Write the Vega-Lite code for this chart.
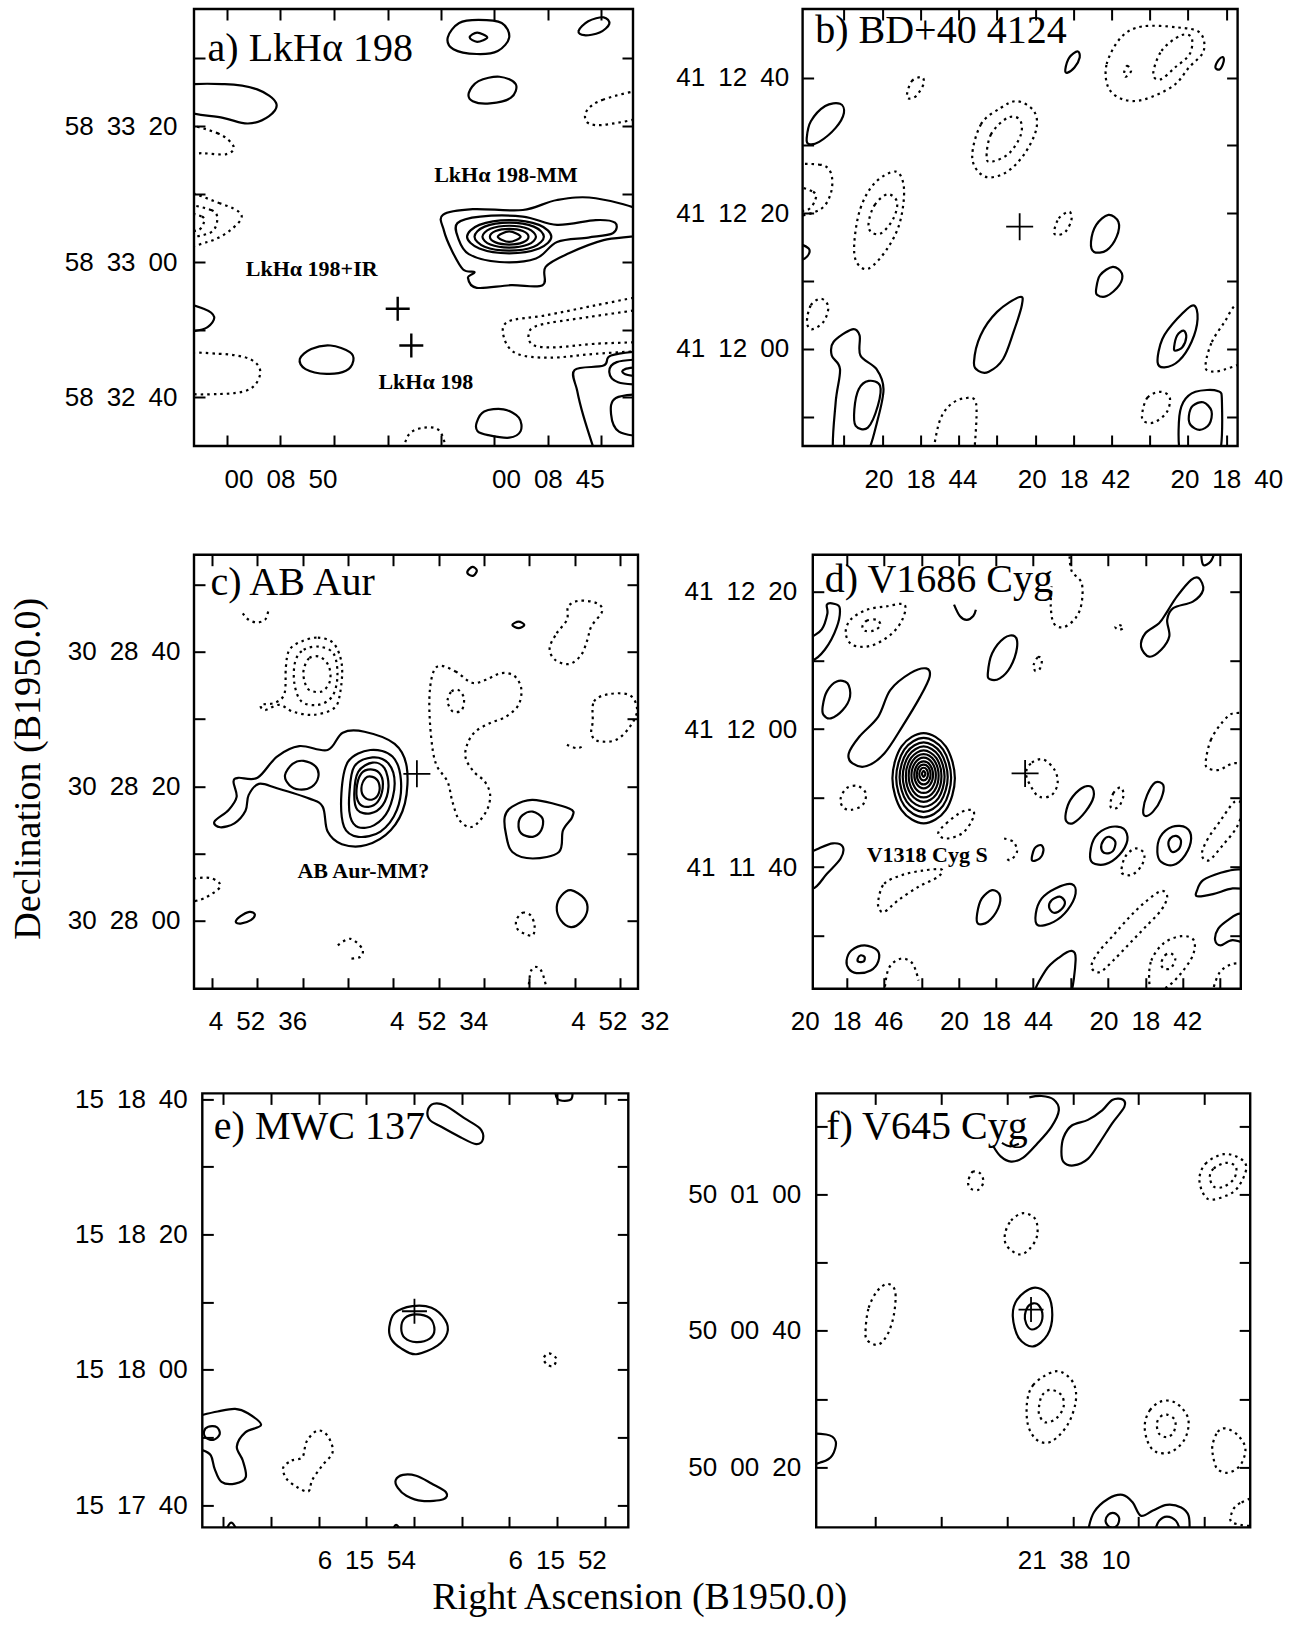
{
"$schema":"https://vega.github.io/schema/vega-lite/v6.json",
"background":"white",
"padding":{"left":10,"top":6,"right":5,"bottom":5},
"title":{"text":"Declination (B1950.0)","orient":"left","anchor":"middle","font":"Liberation Serif","fontSize":38,"fontWeight":"normal","color":"black","offset":9,"dx":43},
"config":{"view":{"stroke":"black","strokeWidth":2.4},"axis":{"domain":false,"grid":false,"tickSize":-11,"tickWidth":2,"tickColor":"black","labelFont":"Liberation Sans","labelFontSize":26,"labelColor":"black","labelFlush":false,"labelOverlap":false}},
"datasets":{
"m":[{"p":"a","x":46.4,"y":31.4},{"p":"a","x":49.5,"y":23.0},{"p":"b","x":49.9,"y":50.2},{"p":"c","x":50.2,"y":49.5},{"p":"d","x":49.6,"y":49.6},{"p":"e","x":49.8,"y":49.8},{"p":"f","x":49.5,"y":50.2}],
"fr":[{"p":"e","x":0,"x2":100,"y":0,"y2":100}],
"t":[{"p":"a","k":"title","x":3.1,"y":88.1,"label":"a) LkHα 198"},{"p":"b","k":"title","x":2.9,"y":92.3,"label":"b) BD+40 4124"},{"p":"c","k":"title","x":3.7,"y":90.8,"label":"c) AB Aur"},{"p":"d","k":"title","x":2.8,"y":91.5,"label":"d) V1686 Cyg"},{"p":"e","k":"title","x":2.7,"y":89.5,"label":"e) MWC 137"},{"p":"f","k":"title","x":2.3,"y":89.6,"label":"f) V645 Cyg"},
{"p":"a","k":"ann","x":54.7,"y":60.5,"label":"LkHα 198-MM"},{"p":"a","k":"ann","x":11.8,"y":38.9,"label":"LkHα 198+IR"},{"p":"a","k":"ann","x":42.0,"y":13.0,"label":"LkHα 198"},{"p":"c","k":"ann","x":23.3,"y":25.4,"label":"AB Aur-MM?"},{"p":"d","k":"ann","x":12.6,"y":29.2,"label":"V1318 Cyg S"}],
"c":[
{"p":"a","k":"a1","t":"s","i":0,"x":57.8,"y":93.5},{"p":"a","k":"a1","t":"s","i":1,"x":60.4,"y":96.8},{"p":"a","k":"a1","t":"s","i":2,"x":64.8,"y":97.5},{"p":"a","k":"a1","t":"s","i":3,"x":70.1,"y":96.8},{"p":"a","k":"a1","t":"s","i":4,"x":71.8,"y":93.5},{"p":"a","k":"a1","t":"s","i":5,"x":69.2,"y":90.4},{"p":"a","k":"a1","t":"s","i":6,"x":64.4,"y":89.7},{"p":"a","k":"a1","t":"s","i":7,"x":59.1,"y":90.8},
{"p":"a","k":"a2","t":"s","i":0,"x":62.8,"y":93.5},{"p":"a","k":"a2","t":"s","i":1,"x":64.5,"y":94.6},{"p":"a","k":"a2","t":"s","i":2,"x":66.8,"y":93.5},{"p":"a","k":"a2","t":"s","i":3,"x":64.5,"y":92.5},
{"p":"a","k":"a3","t":"s","i":0,"x":87.6,"y":95.0},{"p":"a","k":"a3","t":"s","i":1,"x":89.8,"y":97.2},{"p":"a","k":"a3","t":"s","i":2,"x":93.3,"y":98.1},{"p":"a","k":"a3","t":"s","i":3,"x":94.6,"y":96.6},{"p":"a","k":"a3","t":"s","i":4,"x":92.4,"y":94.6},{"p":"a","k":"a3","t":"s","i":5,"x":88.9,"y":94.0},
{"p":"a","k":"a4","t":"s","i":0,"x":62.6,"y":80.8},{"p":"a","k":"a4","t":"s","i":1,"x":64.8,"y":83.5},{"p":"a","k":"a4","t":"s","i":2,"x":69.6,"y":84.5},{"p":"a","k":"a4","t":"s","i":3,"x":73.3,"y":82.8},{"p":"a","k":"a4","t":"s","i":4,"x":72.2,"y":79.7},{"p":"a","k":"a4","t":"s","i":5,"x":67.4,"y":78.4},{"p":"a","k":"a4","t":"s","i":6,"x":63.5,"y":78.9},
{"p":"a","k":"a5","t":"s","i":0,"x":-3,"y":82.2},{"p":"a","k":"a5","t":"s","i":1,"x":7.0,"y":82.8},{"p":"a","k":"a5","t":"s","i":2,"x":14.4,"y":81.6},{"p":"a","k":"a5","t":"s","i":3,"x":18.7,"y":78.5},{"p":"a","k":"a5","t":"s","i":4,"x":17.1,"y":75.5},{"p":"a","k":"a5","t":"s","i":5,"x":12.3,"y":73.8},{"p":"a","k":"a5","t":"s","i":6,"x":6.6,"y":75.1},{"p":"a","k":"a5","t":"s","i":7,"x":-3,"y":77.0},
{"p":"a","k":"a6","t":"d","i":0,"x":-3,"y":73.3},{"p":"a","k":"a6","t":"d","i":1,"x":5.3,"y":71.6},{"p":"a","k":"a6","t":"d","i":2,"x":9.0,"y":68.6},{"p":"a","k":"a6","t":"d","i":3,"x":7.4,"y":66.8},{"p":"a","k":"a6","t":"d","i":4,"x":2.2,"y":67.0},{"p":"a","k":"a6","t":"d","i":5,"x":-3,"y":67.4},
{"p":"a","k":"a7","t":"d","i":0,"x":-3,"y":57.5},{"p":"a","k":"a7","t":"d","i":1,"x":5.7,"y":55.6},{"p":"a","k":"a7","t":"d","i":2,"x":10.8,"y":52.9},{"p":"a","k":"a7","t":"d","i":3,"x":8.3,"y":49.4},{"p":"a","k":"a7","t":"d","i":4,"x":3.1,"y":46.7},{"p":"a","k":"a7","t":"d","i":5,"x":-3,"y":46.4},
{"p":"a","k":"a8","t":"d","i":0,"x":-3,"y":54.8},{"p":"a","k":"a8","t":"d","i":1,"x":3.9,"y":54.0},{"p":"a","k":"a8","t":"d","i":2,"x":5.3,"y":51.7},{"p":"a","k":"a8","t":"d","i":3,"x":3.5,"y":48.7},{"p":"a","k":"a8","t":"d","i":4,"x":-3,"y":48.3},
{"p":"a","k":"a9","t":"d","i":0,"x":-3,"y":53.3},{"p":"a","k":"a9","t":"d","i":1,"x":1.8,"y":52.5},{"p":"a","k":"a9","t":"d","i":2,"x":2.2,"y":51.0},{"p":"a","k":"a9","t":"d","i":3,"x":0.9,"y":49.4},{"p":"a","k":"a9","t":"d","i":4,"x":-3,"y":49.4},
{"p":"a","k":"a10","t":"s","i":0,"x":-3,"y":32.4},{"p":"a","k":"a10","t":"s","i":1,"x":2.2,"y":31.4},{"p":"a","k":"a10","t":"s","i":2,"x":4.6,"y":29.5},{"p":"a","k":"a10","t":"s","i":3,"x":3.1,"y":27.2},{"p":"a","k":"a10","t":"s","i":4,"x":0,"y":26.3},{"p":"a","k":"a10","t":"s","i":5,"x":-3,"y":26.4},
{"p":"a","k":"a11","t":"d","i":0,"x":-3,"y":20.5},{"p":"a","k":"a11","t":"d","i":1,"x":5.7,"y":21.1},{"p":"a","k":"a11","t":"d","i":2,"x":12.7,"y":19.9},{"p":"a","k":"a11","t":"d","i":3,"x":15.1,"y":16.9},{"p":"a","k":"a11","t":"d","i":4,"x":12.7,"y":13.0},{"p":"a","k":"a11","t":"d","i":5,"x":5.7,"y":11.9},{"p":"a","k":"a11","t":"d","i":6,"x":-3,"y":12.8},
{"p":"a","k":"a12","t":"s","i":0,"x":24.1,"y":19.9},{"p":"a","k":"a12","t":"s","i":1,"x":26.7,"y":22.2},{"p":"a","k":"a12","t":"s","i":2,"x":31.1,"y":23.0},{"p":"a","k":"a12","t":"s","i":3,"x":35.5,"y":21.5},{"p":"a","k":"a12","t":"s","i":4,"x":36.3,"y":19.5},{"p":"a","k":"a12","t":"s","i":5,"x":34.6,"y":17.2},{"p":"a","k":"a12","t":"s","i":6,"x":30.2,"y":16.5},{"p":"a","k":"a12","t":"s","i":7,"x":25.4,"y":17.6},
{"p":"a","k":"a13","t":"s","i":0,"x":56.7,"y":52.9},{"p":"a","k":"a13","t":"s","i":1,"x":63.5,"y":54.2},{"p":"a","k":"a13","t":"s","i":2,"x":74.9,"y":54.0},{"p":"a","k":"a13","t":"s","i":3,"x":82.7,"y":56.3},{"p":"a","k":"a13","t":"s","i":4,"x":91.5,"y":56.7},{"p":"a","k":"a13","t":"s","i":5,"x":103,"y":53.3},{"p":"a","k":"a13","t":"s","i":6,"x":103,"y":48.7},{"p":"a","k":"a13","t":"s","i":7,"x":93.3,"y":47.1},{"p":"a","k":"a13","t":"s","i":8,"x":85.4,"y":44.1},{"p":"a","k":"a13","t":"s","i":9,"x":80.1,"y":41.0},{"p":"a","k":"a13","t":"s","i":10,"x":79.4,"y":36.8},{"p":"a","k":"a13","t":"s","i":11,"x":72.2,"y":36.8},{"p":"a","k":"a13","t":"s","i":12,"x":64.4,"y":36.2},{"p":"a","k":"a13","t":"s","i":13,"x":62.4,"y":38.5},{"p":"a","k":"a13","t":"s","i":14,"x":63.9,"y":39.8},{"p":"a","k":"a13","t":"s","i":15,"x":61.3,"y":40.4},{"p":"a","k":"a13","t":"s","i":16,"x":58.7,"y":44.8},{"p":"a","k":"a13","t":"s","i":17,"x":56.9,"y":49.4},
{"p":"a","k":"a14","t":"s","i":0,"x":60.0,"y":51.0},{"p":"a","k":"a14","t":"s","i":1,"x":65.2,"y":52.5},{"p":"a","k":"a14","t":"s","i":2,"x":74.9,"y":52.5},{"p":"a","k":"a14","t":"s","i":3,"x":82.7,"y":50.6},{"p":"a","k":"a14","t":"s","i":4,"x":91.5,"y":51.7},{"p":"a","k":"a14","t":"s","i":5,"x":95.9,"y":51.1},{"p":"a","k":"a14","t":"s","i":6,"x":95.4,"y":48.7},{"p":"a","k":"a14","t":"s","i":7,"x":89.8,"y":47.7},{"p":"a","k":"a14","t":"s","i":8,"x":82.7,"y":46.7},{"p":"a","k":"a14","t":"s","i":9,"x":77.9,"y":42.9},{"p":"a","k":"a14","t":"s","i":10,"x":69.6,"y":42.1},{"p":"a","k":"a14","t":"s","i":11,"x":62.6,"y":43.9},{"p":"a","k":"a14","t":"s","i":12,"x":60.2,"y":47.5},
{"p":"a","k":"a15","t":"s","i":0,"x":62.2,"y":47.9},{"p":"a","k":"a15","t":"s","i":1,"x":65.0,"y":50.6},{"p":"a","k":"a15","t":"s","i":2,"x":71.8,"y":51.7},{"p":"a","k":"a15","t":"s","i":3,"x":78.6,"y":50.6},{"p":"a","k":"a15","t":"s","i":4,"x":81.4,"y":47.9},{"p":"a","k":"a15","t":"s","i":5,"x":78.6,"y":45.2},{"p":"a","k":"a15","t":"s","i":6,"x":71.8,"y":44.1},{"p":"a","k":"a15","t":"s","i":7,"x":65.0,"y":45.2},
{"p":"a","k":"a16","t":"s","i":0,"x":63.9,"y":47.9},{"p":"a","k":"a16","t":"s","i":1,"x":66.2,"y":50.2},{"p":"a","k":"a16","t":"s","i":2,"x":71.8,"y":51.1},{"p":"a","k":"a16","t":"s","i":3,"x":77.4,"y":50.2},{"p":"a","k":"a16","t":"s","i":4,"x":79.7,"y":47.9},{"p":"a","k":"a16","t":"s","i":5,"x":77.4,"y":45.6},{"p":"a","k":"a16","t":"s","i":6,"x":71.8,"y":44.7},{"p":"a","k":"a16","t":"s","i":7,"x":66.2,"y":45.6},
{"p":"a","k":"a17","t":"s","i":0,"x":65.7,"y":47.9},{"p":"a","k":"a17","t":"s","i":1,"x":67.5,"y":49.7},{"p":"a","k":"a17","t":"s","i":2,"x":71.8,"y":50.4},{"p":"a","k":"a17","t":"s","i":3,"x":76.1,"y":49.7},{"p":"a","k":"a17","t":"s","i":4,"x":77.9,"y":47.9},{"p":"a","k":"a17","t":"s","i":5,"x":76.1,"y":46.1},{"p":"a","k":"a17","t":"s","i":6,"x":71.8,"y":45.4},{"p":"a","k":"a17","t":"s","i":7,"x":67.5,"y":46.1},
{"p":"a","k":"a18","t":"s","i":0,"x":67.4,"y":47.9},{"p":"a","k":"a18","t":"s","i":1,"x":68.7,"y":49.2},{"p":"a","k":"a18","t":"s","i":2,"x":71.8,"y":49.7},{"p":"a","k":"a18","t":"s","i":3,"x":74.9,"y":49.2},{"p":"a","k":"a18","t":"s","i":4,"x":76.2,"y":47.9},{"p":"a","k":"a18","t":"s","i":5,"x":74.9,"y":46.6},{"p":"a","k":"a18","t":"s","i":6,"x":71.8,"y":46.1},{"p":"a","k":"a18","t":"s","i":7,"x":68.7,"y":46.6},
{"p":"a","k":"a19","t":"s","i":0,"x":69.2,"y":47.9},{"p":"a","k":"a19","t":"s","i":1,"x":71.8,"y":49.1},{"p":"a","k":"a19","t":"s","i":2,"x":74.4,"y":47.9},{"p":"a","k":"a19","t":"s","i":3,"x":71.8,"y":46.7},
{"p":"a","k":"a20","t":"do","i":0,"x":103,"y":34.5},{"p":"a","k":"a20","t":"do","i":1,"x":91.5,"y":32.2},{"p":"a","k":"a20","t":"do","i":2,"x":80.1,"y":29.9},{"p":"a","k":"a20","t":"do","i":3,"x":71.4,"y":28.4},{"p":"a","k":"a20","t":"do","i":4,"x":70.7,"y":24.5},{"p":"a","k":"a20","t":"do","i":5,"x":73.6,"y":21.1},{"p":"a","k":"a20","t":"do","i":6,"x":81.0,"y":20.2},{"p":"a","k":"a20","t":"do","i":7,"x":91.5,"y":21.1},{"p":"a","k":"a20","t":"do","i":8,"x":103,"y":21.8},
{"p":"a","k":"a21","t":"do","i":0,"x":103,"y":31.4},{"p":"a","k":"a21","t":"do","i":1,"x":89.8,"y":29.5},{"p":"a","k":"a21","t":"do","i":2,"x":78.4,"y":27.6},{"p":"a","k":"a21","t":"do","i":3,"x":76.2,"y":25.3},{"p":"a","k":"a21","t":"do","i":4,"x":77.5,"y":23.0},{"p":"a","k":"a21","t":"do","i":5,"x":82.7,"y":22.6},{"p":"a","k":"a21","t":"do","i":6,"x":91.5,"y":23.4},{"p":"a","k":"a21","t":"do","i":7,"x":103,"y":23.8},
{"p":"a","k":"a22","t":"so","i":0,"x":103,"y":21.8},{"p":"a","k":"a22","t":"so","i":1,"x":95.0,"y":20.7},{"p":"a","k":"a22","t":"so","i":2,"x":93.3,"y":18.4},{"p":"a","k":"a22","t":"so","i":3,"x":86.7,"y":17.4},{"p":"a","k":"a22","t":"so","i":4,"x":87.3,"y":12.6},{"p":"a","k":"a22","t":"so","i":5,"x":88.7,"y":6.9},{"p":"a","k":"a22","t":"so","i":6,"x":91.5,"y":-2},
{"p":"a","k":"a23","t":"so","i":0,"x":103,"y":19.9},{"p":"a","k":"a23","t":"so","i":1,"x":96.3,"y":19.2},{"p":"a","k":"a23","t":"so","i":2,"x":94.6,"y":16.9},{"p":"a","k":"a23","t":"so","i":3,"x":96.6,"y":14.6},{"p":"a","k":"a23","t":"so","i":4,"x":103,"y":14.0},
{"p":"a","k":"a24","t":"so","i":0,"x":103,"y":18.2},{"p":"a","k":"a24","t":"so","i":1,"x":98.2,"y":17.6},{"p":"a","k":"a24","t":"so","i":2,"x":98.1,"y":16.5},{"p":"a","k":"a24","t":"so","i":3,"x":103,"y":15.6},
{"p":"a","k":"a25","t":"so","i":0,"x":103,"y":11.9},{"p":"a","k":"a25","t":"so","i":1,"x":96.1,"y":11.0},{"p":"a","k":"a25","t":"so","i":2,"x":95.0,"y":7.3},{"p":"a","k":"a25","t":"so","i":3,"x":96.8,"y":3.3},{"p":"a","k":"a25","t":"so","i":4,"x":103,"y":2.1},
{"p":"a","k":"a26","t":"s","i":0,"x":64.4,"y":5.4},{"p":"a","k":"a26","t":"s","i":1,"x":66.1,"y":7.9},{"p":"a","k":"a26","t":"s","i":2,"x":70.5,"y":8.4},{"p":"a","k":"a26","t":"s","i":3,"x":74.0,"y":6.5},{"p":"a","k":"a26","t":"s","i":4,"x":74.4,"y":3.4},{"p":"a","k":"a26","t":"s","i":5,"x":71.8,"y":1.9},{"p":"a","k":"a26","t":"s","i":6,"x":67.0,"y":2.5},{"p":"a","k":"a26","t":"s","i":7,"x":64.6,"y":3.4},
{"p":"a","k":"a27","t":"do","i":0,"x":47.3,"y":-2},{"p":"a","k":"a27","t":"do","i":1,"x":49.0,"y":2.7},{"p":"a","k":"a27","t":"do","i":2,"x":52.5,"y":4.2},{"p":"a","k":"a27","t":"do","i":3,"x":56.0,"y":3.4},{"p":"a","k":"a27","t":"do","i":4,"x":57.8,"y":-2},
{"p":"a","k":"a28","t":"d","i":0,"x":103,"y":81.2},{"p":"a","k":"a28","t":"d","i":1,"x":93.3,"y":79.3},{"p":"a","k":"a28","t":"d","i":2,"x":89.4,"y":76.6},{"p":"a","k":"a28","t":"d","i":3,"x":89.8,"y":73.9},{"p":"a","k":"a28","t":"d","i":4,"x":94.2,"y":73.6},{"p":"a","k":"a28","t":"d","i":5,"x":103,"y":75.9},
{"p":"b","k":"b1","t":"s","i":0,"x":0.95,"y":70.5},{"p":"b","k":"b1","t":"s","i":1,"x":1.9,"y":74.3},{"p":"b","k":"b1","t":"s","i":2,"x":5.2,"y":77.8},{"p":"b","k":"b1","t":"s","i":3,"x":8.6,"y":78.3},{"p":"b","k":"b1","t":"s","i":4,"x":9.5,"y":76.2},{"p":"b","k":"b1","t":"s","i":5,"x":7.6,"y":72.8},{"p":"b","k":"b1","t":"s","i":6,"x":3.8,"y":69.6},{"p":"b","k":"b1","t":"s","i":7,"x":1.4,"y":69.1},
{"p":"b","k":"b2","t":"d","i":0,"x":24.0,"y":80.5},{"p":"b","k":"b2","t":"d","i":1,"x":25.1,"y":83.5},{"p":"b","k":"b2","t":"d","i":2,"x":27.4,"y":84.4},{"p":"b","k":"b2","t":"d","i":3,"x":27.8,"y":82.8},{"p":"b","k":"b2","t":"d","i":4,"x":26.1,"y":80.1},{"p":"b","k":"b2","t":"d","i":5,"x":24.5,"y":79.5},
{"p":"b","k":"b3","t":"d","i":0,"x":39.0,"y":65.9},{"p":"b","k":"b3","t":"d","i":1,"x":41.0,"y":73.6},{"p":"b","k":"b3","t":"d","i":2,"x":45.6,"y":77.4},{"p":"b","k":"b3","t":"d","i":3,"x":49.4,"y":78.9},{"p":"b","k":"b3","t":"d","i":4,"x":53.2,"y":76.6},{"p":"b","k":"b3","t":"d","i":5,"x":53.7,"y":72.4},{"p":"b","k":"b3","t":"d","i":6,"x":50.9,"y":66.7},{"p":"b","k":"b3","t":"d","i":7,"x":46.6,"y":62.5},{"p":"b","k":"b3","t":"d","i":8,"x":41.8,"y":61.7},
{"p":"b","k":"b4","t":"d","i":0,"x":42.3,"y":65.9},{"p":"b","k":"b4","t":"d","i":1,"x":43.3,"y":71.3},{"p":"b","k":"b4","t":"d","i":2,"x":47.1,"y":75.1},{"p":"b","k":"b4","t":"d","i":3,"x":49.9,"y":74.7},{"p":"b","k":"b4","t":"d","i":4,"x":50.2,"y":71.3},{"p":"b","k":"b4","t":"d","i":5,"x":47.5,"y":67.0},{"p":"b","k":"b4","t":"d","i":6,"x":43.7,"y":65.1},
{"p":"b","k":"b5","t":"d","i":0,"x":11.9,"y":46.7},{"p":"b","k":"b5","t":"d","i":1,"x":13.3,"y":54.4},{"p":"b","k":"b5","t":"d","i":2,"x":16.6,"y":60.2},{"p":"b","k":"b5","t":"d","i":3,"x":21.4,"y":62.8},{"p":"b","k":"b5","t":"d","i":4,"x":23.3,"y":59.0},{"p":"b","k":"b5","t":"d","i":5,"x":22.4,"y":51.3},{"p":"b","k":"b5","t":"d","i":6,"x":19.5,"y":45.2},{"p":"b","k":"b5","t":"d","i":7,"x":15.2,"y":40.6},{"p":"b","k":"b5","t":"d","i":8,"x":12.4,"y":42.1},
{"p":"b","k":"b6","t":"d","i":0,"x":15.2,"y":51.3},{"p":"b","k":"b6","t":"d","i":1,"x":16.6,"y":55.2},{"p":"b","k":"b6","t":"d","i":2,"x":19.5,"y":57.6},{"p":"b","k":"b6","t":"d","i":3,"x":21.7,"y":55.9},{"p":"b","k":"b6","t":"d","i":4,"x":20.9,"y":52.1},{"p":"b","k":"b6","t":"d","i":5,"x":18.1,"y":48.7},{"p":"b","k":"b6","t":"d","i":6,"x":15.7,"y":49.0},
{"p":"b","k":"b7","t":"d","i":0,"x":-3,"y":63.2},{"p":"b","k":"b7","t":"d","i":1,"x":3.8,"y":64.4},{"p":"b","k":"b7","t":"d","i":2,"x":6.5,"y":62.5},{"p":"b","k":"b7","t":"d","i":3,"x":6.5,"y":57.9},{"p":"b","k":"b7","t":"d","i":4,"x":3.8,"y":54.0},{"p":"b","k":"b7","t":"d","i":5,"x":-3,"y":53.3},
{"p":"b","k":"b8","t":"d","i":0,"x":-3,"y":59.4},{"p":"b","k":"b8","t":"d","i":1,"x":2.4,"y":58.2},{"p":"b","k":"b8","t":"d","i":2,"x":2.9,"y":56.3},{"p":"b","k":"b8","t":"d","i":3,"x":1.0,"y":54.0},{"p":"b","k":"b8","t":"d","i":4,"x":-3,"y":54.5},
{"p":"b","k":"b9","t":"s","i":0,"x":-3,"y":46.6},{"p":"b","k":"b9","t":"s","i":1,"x":1.4,"y":45.2},{"p":"b","k":"b9","t":"s","i":2,"x":0.5,"y":42.9},{"p":"b","k":"b9","t":"s","i":3,"x":-3,"y":42.9},
{"p":"b","k":"b10","t":"d","i":0,"x":57.8,"y":49.0},{"p":"b","k":"b10","t":"d","i":1,"x":58.9,"y":52.1},{"p":"b","k":"b10","t":"d","i":2,"x":61.3,"y":53.6},{"p":"b","k":"b10","t":"d","i":3,"x":61.8,"y":51.7},{"p":"b","k":"b10","t":"d","i":4,"x":60.4,"y":49.0},{"p":"b","k":"b10","t":"d","i":5,"x":58.6,"y":48.3},
{"p":"b","k":"b11","t":"s","i":0,"x":66.3,"y":46.7},{"p":"b","k":"b11","t":"s","i":1,"x":67.5,"y":50.6},{"p":"b","k":"b11","t":"s","i":2,"x":70.3,"y":52.9},{"p":"b","k":"b11","t":"s","i":3,"x":72.6,"y":51.3},{"p":"b","k":"b11","t":"s","i":4,"x":72.2,"y":47.9},{"p":"b","k":"b11","t":"s","i":5,"x":69.9,"y":44.8},{"p":"b","k":"b11","t":"s","i":6,"x":67.0,"y":44.4},
{"p":"b","k":"b12","t":"s","i":0,"x":67.5,"y":36.0},{"p":"b","k":"b12","t":"s","i":1,"x":68.4,"y":39.1},{"p":"b","k":"b12","t":"s","i":2,"x":71.3,"y":41.0},{"p":"b","k":"b12","t":"s","i":3,"x":73.4,"y":39.5},{"p":"b","k":"b12","t":"s","i":4,"x":72.8,"y":36.8},{"p":"b","k":"b12","t":"s","i":5,"x":69.9,"y":34.3},{"p":"b","k":"b12","t":"s","i":6,"x":67.7,"y":34.6},
{"p":"b","k":"b13","t":"s","i":0,"x":39.4,"y":19.2},{"p":"b","k":"b13","t":"s","i":1,"x":40.9,"y":25.3},{"p":"b","k":"b13","t":"s","i":2,"x":44.7,"y":30.7},{"p":"b","k":"b13","t":"s","i":3,"x":49.9,"y":34.1},{"p":"b","k":"b13","t":"s","i":4,"x":50.4,"y":32.2},{"p":"b","k":"b13","t":"s","i":5,"x":48.5,"y":26.1},{"p":"b","k":"b13","t":"s","i":6,"x":46.1,"y":19.9},{"p":"b","k":"b13","t":"s","i":7,"x":42.8,"y":17.0},{"p":"b","k":"b13","t":"s","i":8,"x":40.4,"y":17.2},
{"p":"b","k":"b14","t":"s","i":0,"x":7.1,"y":-2},{"p":"b","k":"b14","t":"s","i":1,"x":7.6,"y":10.0},{"p":"b","k":"b14","t":"s","i":2,"x":8.6,"y":17.6},{"p":"b","k":"b14","t":"s","i":3,"x":6.7,"y":20.7},{"p":"b","k":"b14","t":"s","i":4,"x":7.1,"y":23.8},{"p":"b","k":"b14","t":"s","i":5,"x":11.4,"y":26.7},{"p":"b","k":"b14","t":"s","i":6,"x":13.1,"y":25.3},{"p":"b","k":"b14","t":"s","i":7,"x":13.3,"y":20.7},{"p":"b","k":"b14","t":"s","i":8,"x":17.0,"y":17.6},{"p":"b","k":"b14","t":"s","i":9,"x":18.6,"y":13.0},{"p":"b","k":"b14","t":"s","i":10,"x":17.1,"y":5.4},{"p":"b","k":"b14","t":"s","i":11,"x":14.7,"y":-2},{"p":"b","k":"b14","t":"s","i":12,"x":10.8,"y":-4},
{"p":"b","k":"b15","t":"s","i":0,"x":11.9,"y":8.4},{"p":"b","k":"b15","t":"s","i":1,"x":12.9,"y":13.0},{"p":"b","k":"b15","t":"s","i":2,"x":15.2,"y":14.9},{"p":"b","k":"b15","t":"s","i":3,"x":17.8,"y":13.8},{"p":"b","k":"b15","t":"s","i":4,"x":17.3,"y":9.2},{"p":"b","k":"b15","t":"s","i":5,"x":15.0,"y":4.2},{"p":"b","k":"b15","t":"s","i":6,"x":12.2,"y":4.6},
{"p":"b","k":"b16","t":"d","i":0,"x":1.0,"y":28.4},{"p":"b","k":"b16","t":"d","i":1,"x":1.9,"y":32.2},{"p":"b","k":"b16","t":"d","i":2,"x":4.3,"y":33.7},{"p":"b","k":"b16","t":"d","i":3,"x":5.9,"y":31.8},{"p":"b","k":"b16","t":"d","i":4,"x":4.8,"y":28.4},{"p":"b","k":"b16","t":"d","i":5,"x":2.1,"y":26.7},
{"p":"b","k":"b17","t":"do","i":0,"x":29.9,"y":-2},{"p":"b","k":"b17","t":"do","i":1,"x":31.4,"y":5.4},{"p":"b","k":"b17","t":"do","i":2,"x":33.7,"y":9.2},{"p":"b","k":"b17","t":"do","i":3,"x":37.1,"y":10.9},{"p":"b","k":"b17","t":"do","i":4,"x":39.9,"y":9.6},{"p":"b","k":"b17","t":"do","i":5,"x":39.4,"y":-2},
{"p":"b","k":"b18","t":"s","i":0,"x":81.6,"y":19.2},{"p":"b","k":"b18","t":"s","i":1,"x":82.7,"y":24.5},{"p":"b","k":"b18","t":"s","i":2,"x":86.1,"y":29.1},{"p":"b","k":"b18","t":"s","i":3,"x":89.8,"y":32.2},{"p":"b","k":"b18","t":"s","i":4,"x":90.8,"y":29.1},{"p":"b","k":"b18","t":"s","i":5,"x":89.4,"y":23.8},{"p":"b","k":"b18","t":"s","i":6,"x":86.5,"y":19.5},{"p":"b","k":"b18","t":"s","i":7,"x":83.2,"y":18.0},
{"p":"b","k":"b19","t":"s","i":0,"x":85.4,"y":22.6},{"p":"b","k":"b19","t":"s","i":1,"x":86.1,"y":25.3},{"p":"b","k":"b19","t":"s","i":2,"x":87.6,"y":26.4},{"p":"b","k":"b19","t":"s","i":3,"x":88.2,"y":24.9},{"p":"b","k":"b19","t":"s","i":4,"x":87.3,"y":22.6},{"p":"b","k":"b19","t":"s","i":5,"x":85.7,"y":21.8},
{"p":"b","k":"b20","t":"d","i":0,"x":92.7,"y":19.2},{"p":"b","k":"b20","t":"d","i":1,"x":94.1,"y":23.8},{"p":"b","k":"b20","t":"d","i":2,"x":97.0,"y":28.4},{"p":"b","k":"b20","t":"d","i":3,"x":99.8,"y":32.2},{"p":"b","k":"b20","t":"d","i":4,"x":103,"y":28.4},{"p":"b","k":"b20","t":"d","i":5,"x":103,"y":20.7},{"p":"b","k":"b20","t":"d","i":6,"x":97.0,"y":17.5},{"p":"b","k":"b20","t":"d","i":7,"x":93.2,"y":17.2},
{"p":"b","k":"b21","t":"d","i":0,"x":78.1,"y":7.7},{"p":"b","k":"b21","t":"d","i":1,"x":79.3,"y":11.1},{"p":"b","k":"b21","t":"d","i":2,"x":82.2,"y":12.4},{"p":"b","k":"b21","t":"d","i":3,"x":84.4,"y":11.1},{"p":"b","k":"b21","t":"d","i":4,"x":83.7,"y":7.7},{"p":"b","k":"b21","t":"d","i":5,"x":80.8,"y":5.4},{"p":"b","k":"b21","t":"d","i":6,"x":78.4,"y":5.7},
{"p":"b","k":"b22","t":"s","i":0,"x":87.0,"y":-2},{"p":"b","k":"b22","t":"s","i":1,"x":86.5,"y":5.4},{"p":"b","k":"b22","t":"s","i":2,"x":87.5,"y":10.0},{"p":"b","k":"b22","t":"s","i":3,"x":90.3,"y":12.4},{"p":"b","k":"b22","t":"s","i":4,"x":95.4,"y":12.6},{"p":"b","k":"b22","t":"s","i":5,"x":96.4,"y":10.0},{"p":"b","k":"b22","t":"s","i":6,"x":95.8,"y":-2},{"p":"b","k":"b22","t":"s","i":7,"x":91.3,"y":-4},
{"p":"b","k":"b23","t":"s","i":0,"x":88.8,"y":6.9},{"p":"b","k":"b23","t":"s","i":1,"x":89.7,"y":9.2},{"p":"b","k":"b23","t":"s","i":2,"x":92.1,"y":10.0},{"p":"b","k":"b23","t":"s","i":3,"x":94.0,"y":8.0},{"p":"b","k":"b23","t":"s","i":4,"x":93.5,"y":5.0},{"p":"b","k":"b23","t":"s","i":5,"x":91.3,"y":3.7},{"p":"b","k":"b23","t":"s","i":6,"x":89.2,"y":4.8},
{"p":"b","k":"b24","t":"d","i":0,"x":70.3,"y":82.0},{"p":"b","k":"b24","t":"d","i":1,"x":69.9,"y":87.4},{"p":"b","k":"b24","t":"d","i":2,"x":73.2,"y":93.5},{"p":"b","k":"b24","t":"d","i":3,"x":78.0,"y":96.0},{"p":"b","k":"b24","t":"d","i":4,"x":86.1,"y":95.8},{"p":"b","k":"b24","t":"d","i":5,"x":91.3,"y":94.6},{"p":"b","k":"b24","t":"d","i":6,"x":92.2,"y":90.4},{"p":"b","k":"b24","t":"d","i":7,"x":88.8,"y":86.6},{"p":"b","k":"b24","t":"d","i":8,"x":85.2,"y":82.4},{"p":"b","k":"b24","t":"d","i":9,"x":78.5,"y":79.3},{"p":"b","k":"b24","t":"d","i":10,"x":73.7,"y":79.3},
{"p":"b","k":"b25","t":"d","i":0,"x":80.6,"y":85.2},{"p":"b","k":"b25","t":"d","i":1,"x":82.5,"y":90.4},{"p":"b","k":"b25","t":"d","i":2,"x":86.8,"y":93.9},{"p":"b","k":"b25","t":"d","i":3,"x":89.4,"y":93.5},{"p":"b","k":"b25","t":"d","i":4,"x":89.0,"y":89.7},{"p":"b","k":"b25","t":"d","i":5,"x":85.6,"y":86.6},{"p":"b","k":"b25","t":"d","i":6,"x":82.3,"y":83.9},
{"p":"b","k":"b26","t":"d","i":0,"x":73.9,"y":85.4},{"p":"b","k":"b26","t":"d","i":1,"x":74.6,"y":87.0},{"p":"b","k":"b26","t":"d","i":2,"x":75.5,"y":85.8},{"p":"b","k":"b26","t":"d","i":3,"x":74.3,"y":84.5},
{"p":"b","k":"b27","t":"s","i":0,"x":60.4,"y":86.2},{"p":"b","k":"b27","t":"s","i":1,"x":61.3,"y":88.9},{"p":"b","k":"b27","t":"s","i":2,"x":63.2,"y":90.3},{"p":"b","k":"b27","t":"s","i":3,"x":63.7,"y":88.9},{"p":"b","k":"b27","t":"s","i":4,"x":62.5,"y":86.6},{"p":"b","k":"b27","t":"s","i":5,"x":60.8,"y":85.4},
{"p":"b","k":"b28","t":"s","i":0,"x":94.9,"y":86.6},{"p":"b","k":"b28","t":"s","i":1,"x":95.6,"y":88.3},{"p":"b","k":"b28","t":"s","i":2,"x":96.6,"y":89.0},{"p":"b","k":"b28","t":"s","i":3,"x":96.8,"y":88.0},{"p":"b","k":"b28","t":"s","i":4,"x":95.9,"y":86.2},
{"p":"c","k":"c1","t":"s","i":0,"x":4.6,"y":38.5},{"p":"c","k":"c1","t":"s","i":1,"x":7.8,"y":41.2},{"p":"c","k":"c1","t":"s","i":2,"x":9.6,"y":44.2},{"p":"c","k":"c1","t":"s","i":3,"x":8.9,"y":47.7},{"p":"c","k":"c1","t":"s","i":4,"x":10.0,"y":48.6},{"p":"c","k":"c1","t":"s","i":5,"x":14.3,"y":48.6},{"p":"c","k":"c1","t":"s","i":6,"x":18.7,"y":53.5},{"p":"c","k":"c1","t":"s","i":7,"x":23.7,"y":55.9},{"p":"c","k":"c1","t":"s","i":8,"x":30.1,"y":55.0},{"p":"c","k":"c1","t":"s","i":9,"x":33.5,"y":59.0},{"p":"c","k":"c1","t":"s","i":10,"x":38.4,"y":59.2},{"p":"c","k":"c1","t":"s","i":11,"x":45.2,"y":56.4},{"p":"c","k":"c1","t":"s","i":12,"x":47.9,"y":51.2},{"p":"c","k":"c1","t":"s","i":13,"x":47.5,"y":42.7},{"p":"c","k":"c1","t":"s","i":14,"x":44.3,"y":36.5},{"p":"c","k":"c1","t":"s","i":15,"x":38.8,"y":33.1},{"p":"c","k":"c1","t":"s","i":16,"x":33.3,"y":33.3},{"p":"c","k":"c1","t":"s","i":17,"x":30.1,"y":36.2},{"p":"c","k":"c1","t":"s","i":18,"x":29.0,"y":41.9},{"p":"c","k":"c1","t":"s","i":19,"x":26.0,"y":43.8},{"p":"c","k":"c1","t":"s","i":20,"x":18.7,"y":46.2},{"p":"c","k":"c1","t":"s","i":21,"x":14.6,"y":47.2},{"p":"c","k":"c1","t":"s","i":22,"x":12.3,"y":44.6},{"p":"c","k":"c1","t":"s","i":23,"x":11.6,"y":41.0},{"p":"c","k":"c1","t":"s","i":24,"x":9.1,"y":38.1},{"p":"c","k":"c1","t":"s","i":25,"x":5.9,"y":37.2},
{"p":"c","k":"c2","t":"s","i":0,"x":20.5,"y":49.2},{"p":"c","k":"c2","t":"s","i":1,"x":22.2,"y":51.8},{"p":"c","k":"c2","t":"s","i":2,"x":24.7,"y":52.5},{"p":"c","k":"c2","t":"s","i":3,"x":27.4,"y":51.2},{"p":"c","k":"c2","t":"s","i":4,"x":28.0,"y":48.8},{"p":"c","k":"c2","t":"s","i":5,"x":26.5,"y":46.5},{"p":"c","k":"c2","t":"s","i":6,"x":23.7,"y":45.9},{"p":"c","k":"c2","t":"s","i":7,"x":21.5,"y":46.9},
{"p":"c","k":"c3","t":"s","i":0,"x":33.2,"y":45.0},{"p":"c","k":"c3","t":"s","i":1,"x":34.7,"y":52.3},{"p":"c","k":"c3","t":"s","i":2,"x":39.7,"y":55.0},{"p":"c","k":"c3","t":"s","i":3,"x":44.7,"y":53.5},{"p":"c","k":"c3","t":"s","i":4,"x":46.6,"y":48.1},{"p":"c","k":"c3","t":"s","i":5,"x":45.7,"y":41.2},{"p":"c","k":"c3","t":"s","i":6,"x":42.0,"y":36.2},{"p":"c","k":"c3","t":"s","i":7,"x":37.0,"y":35.0},{"p":"c","k":"c3","t":"s","i":8,"x":33.8,"y":37.3},
{"p":"c","k":"c4","t":"s","i":0,"x":35.0,"y":45.0},{"p":"c","k":"c4","t":"s","i":1,"x":36.1,"y":51.2},{"p":"c","k":"c4","t":"s","i":2,"x":40.2,"y":53.3},{"p":"c","k":"c4","t":"s","i":3,"x":43.8,"y":51.9},{"p":"c","k":"c4","t":"s","i":4,"x":45.2,"y":47.3},{"p":"c","k":"c4","t":"s","i":5,"x":43.8,"y":41.2},{"p":"c","k":"c4","t":"s","i":6,"x":40.6,"y":37.7},{"p":"c","k":"c4","t":"s","i":7,"x":37.0,"y":37.2},{"p":"c","k":"c4","t":"s","i":8,"x":35.2,"y":39.6},
{"p":"c","k":"c5","t":"s","i":0,"x":36.1,"y":45.0},{"p":"c","k":"c5","t":"s","i":1,"x":37.0,"y":50.0},{"p":"c","k":"c5","t":"s","i":2,"x":40.2,"y":52.1},{"p":"c","k":"c5","t":"s","i":3,"x":42.9,"y":50.8},{"p":"c","k":"c5","t":"s","i":4,"x":43.8,"y":46.5},{"p":"c","k":"c5","t":"s","i":5,"x":42.5,"y":42.3},{"p":"c","k":"c5","t":"s","i":6,"x":39.7,"y":40.4},{"p":"c","k":"c5","t":"s","i":7,"x":36.8,"y":41.2},
{"p":"c","k":"c6","t":"s","i":0,"x":36.6,"y":45.8},{"p":"c","k":"c6","t":"s","i":1,"x":37.7,"y":49.6},{"p":"c","k":"c6","t":"s","i":2,"x":40.2,"y":50.5},{"p":"c","k":"c6","t":"s","i":3,"x":42.1,"y":49.2},{"p":"c","k":"c6","t":"s","i":4,"x":42.5,"y":46.2},{"p":"c","k":"c6","t":"s","i":5,"x":41.4,"y":43.1},{"p":"c","k":"c6","t":"s","i":6,"x":39.3,"y":41.9},{"p":"c","k":"c6","t":"s","i":7,"x":37.2,"y":42.7},
{"p":"c","k":"c7","t":"s","i":0,"x":37.7,"y":46.2},{"p":"c","k":"c7","t":"s","i":1,"x":38.6,"y":48.5},{"p":"c","k":"c7","t":"s","i":2,"x":40.2,"y":48.8},{"p":"c","k":"c7","t":"s","i":3,"x":41.6,"y":47.5},{"p":"c","k":"c7","t":"s","i":4,"x":41.6,"y":45.0},{"p":"c","k":"c7","t":"s","i":5,"x":40.2,"y":43.6},{"p":"c","k":"c7","t":"s","i":6,"x":38.4,"y":44.1},
{"p":"c","k":"c8","t":"d","i":0,"x":24.2,"y":80.0},{"p":"c","k":"c8","t":"d","i":1,"x":27.9,"y":80.9},{"p":"c","k":"c8","t":"d","i":2,"x":31.5,"y":79.5},{"p":"c","k":"c8","t":"d","i":3,"x":33.3,"y":74.6},{"p":"c","k":"c8","t":"d","i":4,"x":32.9,"y":68.1},{"p":"c","k":"c8","t":"d","i":5,"x":31.5,"y":64.6},{"p":"c","k":"c8","t":"d","i":6,"x":26.9,"y":63.1},{"p":"c","k":"c8","t":"d","i":7,"x":22.4,"y":63.8},{"p":"c","k":"c8","t":"d","i":8,"x":19.2,"y":65.4},{"p":"c","k":"c8","t":"d","i":9,"x":16.0,"y":64.2},{"p":"c","k":"c8","t":"d","i":10,"x":15.1,"y":65.4},{"p":"c","k":"c8","t":"d","i":11,"x":18.3,"y":65.9},{"p":"c","k":"c8","t":"d","i":12,"x":20.4,"y":68.1},{"p":"c","k":"c8","t":"d","i":13,"x":20.7,"y":74.2},{"p":"c","k":"c8","t":"d","i":14,"x":21.5,"y":78.1},
{"p":"c","k":"c9","t":"d","i":0,"x":22.8,"y":75.4},{"p":"c","k":"c9","t":"d","i":1,"x":24.7,"y":78.1},{"p":"c","k":"c9","t":"d","i":2,"x":28.3,"y":78.8},{"p":"c","k":"c9","t":"d","i":3,"x":31.5,"y":77.1},{"p":"c","k":"c9","t":"d","i":4,"x":32.3,"y":71.9},{"p":"c","k":"c9","t":"d","i":5,"x":31.1,"y":67.3},{"p":"c","k":"c9","t":"d","i":6,"x":27.9,"y":65.4},{"p":"c","k":"c9","t":"d","i":7,"x":24.2,"y":66.2},{"p":"c","k":"c9","t":"d","i":8,"x":22.6,"y":70.4},
{"p":"c","k":"c10","t":"d","i":0,"x":24.7,"y":73.5},{"p":"c","k":"c10","t":"d","i":1,"x":26.0,"y":76.2},{"p":"c","k":"c10","t":"d","i":2,"x":28.5,"y":76.4},{"p":"c","k":"c10","t":"d","i":3,"x":30.4,"y":74.2},{"p":"c","k":"c10","t":"d","i":4,"x":30.6,"y":70.8},{"p":"c","k":"c10","t":"d","i":5,"x":28.8,"y":68.5},{"p":"c","k":"c10","t":"d","i":6,"x":26.0,"y":68.8},{"p":"c","k":"c10","t":"d","i":7,"x":24.9,"y":70.8},
{"p":"c","k":"c11","t":"do","i":0,"x":11.0,"y":86.5},{"p":"c","k":"c11","t":"do","i":1,"x":12.3,"y":85.0},{"p":"c","k":"c11","t":"do","i":2,"x":14.2,"y":84.4},{"p":"c","k":"c11","t":"do","i":3,"x":16.0,"y":85.0},{"p":"c","k":"c11","t":"do","i":4,"x":16.7,"y":86.9},
{"p":"c","k":"c12","t":"d","i":0,"x":55.3,"y":74.4},{"p":"c","k":"c12","t":"d","i":1,"x":58.9,"y":73.1},{"p":"c","k":"c12","t":"d","i":2,"x":62.6,"y":70.5},{"p":"c","k":"c12","t":"d","i":3,"x":65.8,"y":71.2},{"p":"c","k":"c12","t":"d","i":4,"x":69.1,"y":72.7},{"p":"c","k":"c12","t":"d","i":5,"x":72.1,"y":72.1},{"p":"c","k":"c12","t":"d","i":6,"x":73.7,"y":69.2},{"p":"c","k":"c12","t":"d","i":7,"x":73.1,"y":65.4},{"p":"c","k":"c12","t":"d","i":8,"x":70.3,"y":62.7},{"p":"c","k":"c12","t":"d","i":9,"x":66.7,"y":61.2},{"p":"c","k":"c12","t":"d","i":10,"x":63.3,"y":59.2},{"p":"c","k":"c12","t":"d","i":11,"x":61.5,"y":56.2},{"p":"c","k":"c12","t":"d","i":12,"x":61.2,"y":53.1},{"p":"c","k":"c12","t":"d","i":13,"x":63.0,"y":50.0},{"p":"c","k":"c12","t":"d","i":14,"x":65.5,"y":47.7},{"p":"c","k":"c12","t":"d","i":15,"x":66.7,"y":44.6},{"p":"c","k":"c12","t":"d","i":16,"x":65.8,"y":40.8},{"p":"c","k":"c12","t":"d","i":17,"x":62.7,"y":37.3},{"p":"c","k":"c12","t":"d","i":18,"x":59.8,"y":38.8},{"p":"c","k":"c12","t":"d","i":19,"x":58.2,"y":43.1},{"p":"c","k":"c12","t":"d","i":20,"x":57.1,"y":47.7},{"p":"c","k":"c12","t":"d","i":21,"x":54.5,"y":51.8},{"p":"c","k":"c12","t":"d","i":22,"x":53.4,"y":58.1},{"p":"c","k":"c12","t":"d","i":23,"x":53.0,"y":66.5},{"p":"c","k":"c12","t":"d","i":24,"x":53.7,"y":72.3},
{"p":"c","k":"c13","t":"d","i":0,"x":57.1,"y":66.5},{"p":"c","k":"c13","t":"d","i":1,"x":58.0,"y":68.5},{"p":"c","k":"c13","t":"d","i":2,"x":59.6,"y":68.8},{"p":"c","k":"c13","t":"d","i":3,"x":60.8,"y":66.9},{"p":"c","k":"c13","t":"d","i":4,"x":60.3,"y":64.2},{"p":"c","k":"c13","t":"d","i":5,"x":58.4,"y":63.8},{"p":"c","k":"c13","t":"d","i":6,"x":57.3,"y":65.4},
{"p":"c","k":"c14","t":"d","i":0,"x":80.1,"y":78.5},{"p":"c","k":"c14","t":"d","i":1,"x":81.7,"y":81.9},{"p":"c","k":"c14","t":"d","i":2,"x":84.0,"y":85.0},{"p":"c","k":"c14","t":"d","i":3,"x":84.3,"y":88.1},{"p":"c","k":"c14","t":"d","i":4,"x":86.8,"y":89.4},{"p":"c","k":"c14","t":"d","i":5,"x":90.8,"y":88.8},{"p":"c","k":"c14","t":"d","i":6,"x":91.9,"y":86.9},{"p":"c","k":"c14","t":"d","i":7,"x":89.5,"y":83.5},{"p":"c","k":"c14","t":"d","i":8,"x":88.6,"y":80.4},{"p":"c","k":"c14","t":"d","i":9,"x":87.2,"y":76.9},{"p":"c","k":"c14","t":"d","i":10,"x":84.5,"y":74.8},{"p":"c","k":"c14","t":"d","i":11,"x":81.3,"y":75.8},
{"p":"c","k":"c15","t":"d","i":0,"x":89.8,"y":61.5},{"p":"c","k":"c15","t":"d","i":1,"x":90.1,"y":66.2},{"p":"c","k":"c15","t":"d","i":2,"x":93.6,"y":67.9},{"p":"c","k":"c15","t":"d","i":3,"x":98.2,"y":67.6},{"p":"c","k":"c15","t":"d","i":4,"x":99.8,"y":64.2},{"p":"c","k":"c15","t":"d","i":5,"x":98.2,"y":60.4},{"p":"c","k":"c15","t":"d","i":6,"x":95.0,"y":57.3},{"p":"c","k":"c15","t":"d","i":7,"x":90.9,"y":57.1},{"p":"c","k":"c15","t":"d","i":8,"x":89.5,"y":58.8},
{"p":"c","k":"c16","t":"do","i":0,"x":84.0,"y":56.2},{"p":"c","k":"c16","t":"do","i":1,"x":86.3,"y":55.4},{"p":"c","k":"c16","t":"do","i":2,"x":88.1,"y":56.2},
{"p":"c","k":"c17","t":"s","i":0,"x":70.0,"y":39.6},{"p":"c","k":"c17","t":"s","i":1,"x":71.6,"y":41.9},{"p":"c","k":"c17","t":"s","i":2,"x":76.3,"y":43.5},{"p":"c","k":"c17","t":"s","i":3,"x":84.5,"y":41.5},{"p":"c","k":"c17","t":"s","i":4,"x":85.2,"y":39.6},{"p":"c","k":"c17","t":"s","i":5,"x":83.1,"y":36.5},{"p":"c","k":"c17","t":"s","i":6,"x":82.2,"y":31.5},{"p":"c","k":"c17","t":"s","i":7,"x":76.3,"y":30.0},{"p":"c","k":"c17","t":"s","i":8,"x":71.7,"y":31.5},{"p":"c","k":"c17","t":"s","i":9,"x":70.3,"y":35.4},
{"p":"c","k":"c18","t":"s","i":0,"x":73.1,"y":38.1},{"p":"c","k":"c18","t":"s","i":1,"x":74.0,"y":40.0},{"p":"c","k":"c18","t":"s","i":2,"x":76.3,"y":40.8},{"p":"c","k":"c18","t":"s","i":3,"x":78.5,"y":39.2},{"p":"c","k":"c18","t":"s","i":4,"x":78.2,"y":36.5},{"p":"c","k":"c18","t":"s","i":5,"x":76.3,"y":35.0},{"p":"c","k":"c18","t":"s","i":6,"x":73.7,"y":35.8},
{"p":"c","k":"c19","t":"s","i":0,"x":81.7,"y":18.8},{"p":"c","k":"c19","t":"s","i":1,"x":82.8,"y":21.5},{"p":"c","k":"c19","t":"s","i":2,"x":84.9,"y":22.7},{"p":"c","k":"c19","t":"s","i":3,"x":87.9,"y":20.8},{"p":"c","k":"c19","t":"s","i":4,"x":88.6,"y":18.1},{"p":"c","k":"c19","t":"s","i":5,"x":87.2,"y":15.4},{"p":"c","k":"c19","t":"s","i":6,"x":84.9,"y":14.2},{"p":"c","k":"c19","t":"s","i":7,"x":82.6,"y":15.8},
{"p":"c","k":"c20","t":"d","i":0,"x":72.6,"y":15.8},{"p":"c","k":"c20","t":"d","i":1,"x":74.0,"y":17.5},{"p":"c","k":"c20","t":"d","i":2,"x":75.8,"y":16.9},{"p":"c","k":"c20","t":"d","i":3,"x":76.7,"y":14.6},{"p":"c","k":"c20","t":"d","i":4,"x":76.3,"y":12.3},{"p":"c","k":"c20","t":"d","i":5,"x":74.4,"y":12.7},{"p":"c","k":"c20","t":"d","i":6,"x":72.8,"y":13.8},
{"p":"c","k":"c21","t":"do","i":0,"x":75.2,"y":-2},{"p":"c","k":"c21","t":"do","i":1,"x":75.8,"y":3.8},{"p":"c","k":"c21","t":"do","i":2,"x":77.2,"y":5.0},{"p":"c","k":"c21","t":"do","i":3,"x":78.5,"y":3.5},{"p":"c","k":"c21","t":"do","i":4,"x":79.9,"y":-2},
{"p":"c","k":"c22","t":"s","i":0,"x":9.4,"y":15.4},{"p":"c","k":"c22","t":"s","i":1,"x":10.5,"y":16.7},{"p":"c","k":"c22","t":"s","i":2,"x":12.5,"y":17.7},{"p":"c","k":"c22","t":"s","i":3,"x":13.7,"y":17.1},{"p":"c","k":"c22","t":"s","i":4,"x":12.8,"y":15.8},{"p":"c","k":"c22","t":"s","i":5,"x":10.5,"y":15.0},
{"p":"c","k":"c23","t":"do","i":0,"x":-3,"y":25.0},{"p":"c","k":"c23","t":"do","i":1,"x":2.7,"y":25.6},{"p":"c","k":"c23","t":"do","i":2,"x":5.2,"y":24.8},{"p":"c","k":"c23","t":"do","i":3,"x":5.9,"y":23.5},{"p":"c","k":"c23","t":"do","i":4,"x":4.1,"y":21.9},{"p":"c","k":"c23","t":"do","i":5,"x":1.4,"y":20.5},{"p":"c","k":"c23","t":"do","i":6,"x":-3,"y":19.5},
{"p":"c","k":"c24","t":"do","i":0,"x":32.4,"y":10.0},{"p":"c","k":"c24","t":"do","i":1,"x":35.2,"y":11.5},{"p":"c","k":"c24","t":"do","i":2,"x":37.9,"y":9.2},{"p":"c","k":"c24","t":"do","i":3,"x":37.4,"y":7.3},{"p":"c","k":"c24","t":"do","i":4,"x":34.7,"y":6.9},
{"p":"c","k":"c25","t":"s","i":0,"x":61.6,"y":96.2},{"p":"c","k":"c25","t":"s","i":1,"x":62.7,"y":97.2},{"p":"c","k":"c25","t":"s","i":2,"x":63.7,"y":96.4},{"p":"c","k":"c25","t":"s","i":3,"x":63.0,"y":95.2},{"p":"c","k":"c25","t":"s","i":4,"x":61.9,"y":95.4},
{"p":"c","k":"c26","t":"s","i":0,"x":71.7,"y":83.8},{"p":"c","k":"c26","t":"s","i":1,"x":73.1,"y":84.6},{"p":"c","k":"c26","t":"s","i":2,"x":74.4,"y":83.8},{"p":"c","k":"c26","t":"s","i":3,"x":73.1,"y":83.1},
{"p":"d","k":"dE1","t":"s","i":0,"x":18.6,"y":48.5},{"p":"d","k":"dE1","t":"s","i":1,"x":20.74,"y":55.85},{"p":"d","k":"dE1","t":"s","i":2,"x":25.9,"y":58.9},{"p":"d","k":"dE1","t":"s","i":3,"x":31.06,"y":55.85},{"p":"d","k":"dE1","t":"s","i":4,"x":33.2,"y":48.5},{"p":"d","k":"dE1","t":"s","i":5,"x":31.06,"y":41.15},{"p":"d","k":"dE1","t":"s","i":6,"x":25.9,"y":38.1},{"p":"d","k":"dE1","t":"s","i":7,"x":20.74,"y":41.15},
{"p":"d","k":"dE2","t":"s","i":0,"x":19.48,"y":48.63},{"p":"d","k":"dE2","t":"s","i":1,"x":21.36,"y":55.1},{"p":"d","k":"dE2","t":"s","i":2,"x":25.9,"y":57.78},{"p":"d","k":"dE2","t":"s","i":3,"x":30.44,"y":55.1},{"p":"d","k":"dE2","t":"s","i":4,"x":32.32,"y":48.63},{"p":"d","k":"dE2","t":"s","i":5,"x":30.44,"y":42.16},{"p":"d","k":"dE2","t":"s","i":6,"x":25.9,"y":39.48},{"p":"d","k":"dE2","t":"s","i":7,"x":21.36,"y":42.16},
{"p":"d","k":"dE3","t":"s","i":0,"x":20.28,"y":48.75},{"p":"d","k":"dE3","t":"s","i":1,"x":21.93,"y":54.41},{"p":"d","k":"dE3","t":"s","i":2,"x":25.9,"y":56.76},{"p":"d","k":"dE3","t":"s","i":3,"x":29.87,"y":54.41},{"p":"d","k":"dE3","t":"s","i":4,"x":31.52,"y":48.75},{"p":"d","k":"dE3","t":"s","i":5,"x":29.87,"y":43.09},{"p":"d","k":"dE3","t":"s","i":6,"x":25.9,"y":40.74},{"p":"d","k":"dE3","t":"s","i":7,"x":21.93,"y":43.09},
{"p":"d","k":"dE4","t":"s","i":0,"x":21.01,"y":48.86},{"p":"d","k":"dE4","t":"s","i":1,"x":22.44,"y":53.79},{"p":"d","k":"dE4","t":"s","i":2,"x":25.9,"y":55.83},{"p":"d","k":"dE4","t":"s","i":3,"x":29.36,"y":53.79},{"p":"d","k":"dE4","t":"s","i":4,"x":30.79,"y":48.86},{"p":"d","k":"dE4","t":"s","i":5,"x":29.36,"y":43.93},{"p":"d","k":"dE4","t":"s","i":6,"x":25.9,"y":41.89},{"p":"d","k":"dE4","t":"s","i":7,"x":22.44,"y":43.93},
{"p":"d","k":"dE5","t":"s","i":0,"x":21.74,"y":48.97},{"p":"d","k":"dE5","t":"s","i":1,"x":22.96,"y":53.16},{"p":"d","k":"dE5","t":"s","i":2,"x":25.9,"y":54.9},{"p":"d","k":"dE5","t":"s","i":3,"x":28.84,"y":53.16},{"p":"d","k":"dE5","t":"s","i":4,"x":30.06,"y":48.97},{"p":"d","k":"dE5","t":"s","i":5,"x":28.84,"y":44.78},{"p":"d","k":"dE5","t":"s","i":6,"x":25.9,"y":43.04},{"p":"d","k":"dE5","t":"s","i":7,"x":22.96,"y":44.78},
{"p":"d","k":"dE6","t":"s","i":0,"x":22.4,"y":49.07},{"p":"d","k":"dE6","t":"s","i":1,"x":23.43,"y":52.6},{"p":"d","k":"dE6","t":"s","i":2,"x":25.9,"y":54.06},{"p":"d","k":"dE6","t":"s","i":3,"x":28.37,"y":52.6},{"p":"d","k":"dE6","t":"s","i":4,"x":29.4,"y":49.07},{"p":"d","k":"dE6","t":"s","i":5,"x":28.37,"y":45.54},{"p":"d","k":"dE6","t":"s","i":6,"x":25.9,"y":44.08},{"p":"d","k":"dE6","t":"s","i":7,"x":23.43,"y":45.54},
{"p":"d","k":"dE7","t":"s","i":0,"x":23.05,"y":49.17},{"p":"d","k":"dE7","t":"s","i":1,"x":23.89,"y":52.04},{"p":"d","k":"dE7","t":"s","i":2,"x":25.9,"y":53.23},{"p":"d","k":"dE7","t":"s","i":3,"x":27.91,"y":52.04},{"p":"d","k":"dE7","t":"s","i":4,"x":28.75,"y":49.17},{"p":"d","k":"dE7","t":"s","i":5,"x":27.91,"y":46.3},{"p":"d","k":"dE7","t":"s","i":6,"x":25.9,"y":45.11},{"p":"d","k":"dE7","t":"s","i":7,"x":23.89,"y":46.3},
{"p":"d","k":"dE8","t":"s","i":0,"x":23.71,"y":49.27},{"p":"d","k":"dE8","t":"s","i":1,"x":24.35,"y":51.48},{"p":"d","k":"dE8","t":"s","i":2,"x":25.9,"y":52.39},{"p":"d","k":"dE8","t":"s","i":3,"x":27.45,"y":51.48},{"p":"d","k":"dE8","t":"s","i":4,"x":28.09,"y":49.27},{"p":"d","k":"dE8","t":"s","i":5,"x":27.45,"y":47.06},{"p":"d","k":"dE8","t":"s","i":6,"x":25.9,"y":46.15},{"p":"d","k":"dE8","t":"s","i":7,"x":24.35,"y":47.06},
{"p":"d","k":"dE9","t":"s","i":0,"x":24.29,"y":49.36},{"p":"d","k":"dE9","t":"s","i":1,"x":24.76,"y":50.98},{"p":"d","k":"dE9","t":"s","i":2,"x":25.9,"y":51.65},{"p":"d","k":"dE9","t":"s","i":3,"x":27.04,"y":50.98},{"p":"d","k":"dE9","t":"s","i":4,"x":27.51,"y":49.36},{"p":"d","k":"dE9","t":"s","i":5,"x":27.04,"y":47.74},{"p":"d","k":"dE9","t":"s","i":6,"x":25.9,"y":47.07},{"p":"d","k":"dE9","t":"s","i":7,"x":24.76,"y":47.74},
{"p":"d","k":"dE10","t":"s","i":0,"x":24.88,"y":49.45},{"p":"d","k":"dE10","t":"s","i":1,"x":25.18,"y":50.48},{"p":"d","k":"dE10","t":"s","i":2,"x":25.9,"y":50.91},{"p":"d","k":"dE10","t":"s","i":3,"x":26.62,"y":50.48},{"p":"d","k":"dE10","t":"s","i":4,"x":26.92,"y":49.45},{"p":"d","k":"dE10","t":"s","i":5,"x":26.62,"y":48.42},{"p":"d","k":"dE10","t":"s","i":6,"x":25.9,"y":47.99},{"p":"d","k":"dE10","t":"s","i":7,"x":25.18,"y":48.42},
{"p":"d","k":"dE11","t":"s","i":0,"x":25.5,"y":49.5},{"p":"d","k":"dE11","t":"s","i":1,"x":25.9,"y":50.2},{"p":"d","k":"dE11","t":"s","i":2,"x":26.3,"y":49.5},{"p":"d","k":"dE11","t":"s","i":3,"x":25.9,"y":48.8},
{"p":"d","k":"d2","t":"s","i":0,"x":8.4,"y":54.2},{"p":"d","k":"d2","t":"s","i":1,"x":10.9,"y":58.1},{"p":"d","k":"d2","t":"s","i":2,"x":15.3,"y":62.7},{"p":"d","k":"d2","t":"s","i":3,"x":18.1,"y":68.8},{"p":"d","k":"d2","t":"s","i":4,"x":22.8,"y":72.7},{"p":"d","k":"d2","t":"s","i":5,"x":26.5,"y":73.8},{"p":"d","k":"d2","t":"s","i":6,"x":27.3,"y":71.9},{"p":"d","k":"d2","t":"s","i":7,"x":25.1,"y":67.3},{"p":"d","k":"d2","t":"s","i":8,"x":20.9,"y":60.4},{"p":"d","k":"d2","t":"s","i":9,"x":16.7,"y":54.2},{"p":"d","k":"d2","t":"s","i":10,"x":12.6,"y":51.3},{"p":"d","k":"d2","t":"s","i":11,"x":9.3,"y":51.9},
{"p":"d","k":"d3","t":"s","i":0,"x":2.3,"y":65.0},{"p":"d","k":"d3","t":"s","i":1,"x":3.3,"y":68.5},{"p":"d","k":"d3","t":"s","i":2,"x":5.6,"y":70.8},{"p":"d","k":"d3","t":"s","i":3,"x":8.1,"y":70.4},{"p":"d","k":"d3","t":"s","i":4,"x":8.7,"y":67.3},{"p":"d","k":"d3","t":"s","i":5,"x":7.0,"y":64.2},{"p":"d","k":"d3","t":"s","i":6,"x":4.2,"y":62.3},{"p":"d","k":"d3","t":"s","i":7,"x":2.5,"y":63.1},
{"p":"d","k":"d4","t":"s","i":0,"x":-0.5,"y":80.8},{"p":"d","k":"d4","t":"s","i":1,"x":2.1,"y":82.8},{"p":"d","k":"d4","t":"s","i":2,"x":3.4,"y":86.4},{"p":"d","k":"d4","t":"s","i":3,"x":3.3,"y":88.5},{"p":"d","k":"d4","t":"s","i":4,"x":4.9,"y":88.7},{"p":"d","k":"d4","t":"s","i":5,"x":6.3,"y":87.7},{"p":"d","k":"d4","t":"s","i":6,"x":5.6,"y":83.3},{"p":"d","k":"d4","t":"s","i":7,"x":2.8,"y":78.1},{"p":"d","k":"d4","t":"s","i":8,"x":-0.5,"y":75.6},{"p":"d","k":"d4","t":"s","i":9,"x":-3,"y":78.1},
{"p":"d","k":"d5","t":"d","i":0,"x":7.7,"y":81.9},{"p":"d","k":"d5","t":"d","i":1,"x":8.8,"y":85.0},{"p":"d","k":"d5","t":"d","i":2,"x":12.6,"y":87.3},{"p":"d","k":"d5","t":"d","i":3,"x":17.2,"y":88.1},{"p":"d","k":"d5","t":"d","i":4,"x":21.4,"y":88.5},{"p":"d","k":"d5","t":"d","i":5,"x":20.9,"y":85.0},{"p":"d","k":"d5","t":"d","i":6,"x":18.1,"y":81.5},{"p":"d","k":"d5","t":"d","i":7,"x":13.5,"y":79.0},{"p":"d","k":"d5","t":"d","i":8,"x":9.3,"y":79.2},
{"p":"d","k":"d6","t":"d","i":0,"x":11.6,"y":83.5},{"p":"d","k":"d6","t":"d","i":1,"x":12.6,"y":84.8},{"p":"d","k":"d6","t":"d","i":2,"x":14.9,"y":85.0},{"p":"d","k":"d6","t":"d","i":3,"x":15.8,"y":83.7},{"p":"d","k":"d6","t":"d","i":4,"x":14.2,"y":82.5},{"p":"d","k":"d6","t":"d","i":5,"x":12.1,"y":82.5},
{"p":"d","k":"d7","t":"so","i":0,"x":33.0,"y":88.5},{"p":"d","k":"d7","t":"so","i":1,"x":34.4,"y":85.8},{"p":"d","k":"d7","t":"so","i":2,"x":36.0,"y":85.0},{"p":"d","k":"d7","t":"so","i":3,"x":37.5,"y":85.9},{"p":"d","k":"d7","t":"so","i":4,"x":38.1,"y":87.3},
{"p":"d","k":"d8","t":"do","i":0,"x":60.0,"y":99.6},{"p":"d","k":"d8","t":"do","i":1,"x":60.5,"y":96.2},{"p":"d","k":"d8","t":"do","i":2,"x":62.8,"y":93.5},{"p":"d","k":"d8","t":"do","i":3,"x":62.8,"y":88.8},{"p":"d","k":"d8","t":"do","i":4,"x":61.4,"y":85.4},{"p":"d","k":"d8","t":"do","i":5,"x":58.6,"y":83.3},{"p":"d","k":"d8","t":"do","i":6,"x":56.3,"y":84.2},{"p":"d","k":"d8","t":"do","i":7,"x":55.6,"y":88.1},{"p":"d","k":"d8","t":"do","i":8,"x":55.8,"y":92.7},
{"p":"d","k":"d9","t":"s","i":0,"x":40.9,"y":72.7},{"p":"d","k":"d9","t":"s","i":1,"x":41.9,"y":77.3},{"p":"d","k":"d9","t":"s","i":2,"x":44.7,"y":80.8},{"p":"d","k":"d9","t":"s","i":3,"x":47.2,"y":81.2},{"p":"d","k":"d9","t":"s","i":4,"x":47.7,"y":78.5},{"p":"d","k":"d9","t":"s","i":5,"x":46.2,"y":74.2},{"p":"d","k":"d9","t":"s","i":6,"x":43.7,"y":71.5},{"p":"d","k":"d9","t":"s","i":7,"x":41.4,"y":71.3},
{"p":"d","k":"d10","t":"d","i":0,"x":51.6,"y":74.6},{"p":"d","k":"d10","t":"d","i":1,"x":52.6,"y":76.4},{"p":"d","k":"d10","t":"d","i":2,"x":53.5,"y":75.8},{"p":"d","k":"d10","t":"d","i":3,"x":53.1,"y":73.8},{"p":"d","k":"d10","t":"d","i":4,"x":52.0,"y":73.2},
{"p":"d","k":"d11","t":"s","i":0,"x":76.7,"y":78.8},{"p":"d","k":"d11","t":"s","i":1,"x":77.7,"y":81.9},{"p":"d","k":"d11","t":"s","i":2,"x":80.9,"y":84.2},{"p":"d","k":"d11","t":"s","i":3,"x":82.8,"y":86.9},{"p":"d","k":"d11","t":"s","i":4,"x":85.1,"y":90.4},{"p":"d","k":"d11","t":"s","i":5,"x":88.4,"y":94.2},{"p":"d","k":"d11","t":"s","i":6,"x":90.2,"y":94.6},{"p":"d","k":"d11","t":"s","i":7,"x":91.2,"y":91.9},{"p":"d","k":"d11","t":"s","i":8,"x":88.8,"y":89.2},{"p":"d","k":"d11","t":"s","i":9,"x":84.2,"y":87.7},{"p":"d","k":"d11","t":"s","i":10,"x":82.8,"y":85.0},{"p":"d","k":"d11","t":"s","i":11,"x":83.3,"y":81.2},{"p":"d","k":"d11","t":"s","i":12,"x":81.4,"y":78.1},{"p":"d","k":"d11","t":"s","i":13,"x":78.6,"y":76.5},
{"p":"d","k":"d12","t":"so","i":0,"x":90.7,"y":101},{"p":"d","k":"d12","t":"so","i":1,"x":91.2,"y":97.7},{"p":"d","k":"d12","t":"so","i":2,"x":93.0,"y":98.5},{"p":"d","k":"d12","t":"so","i":3,"x":94.0,"y":101},
{"p":"d","k":"d13","t":"d","i":0,"x":70.7,"y":83.3},{"p":"d","k":"d13","t":"d","i":1,"x":71.6,"y":83.8},{"p":"d","k":"d13","t":"d","i":2,"x":72.6,"y":83.2},{"p":"d","k":"d13","t":"d","i":3,"x":71.6,"y":82.7},
{"p":"d","k":"d14","t":"d","i":0,"x":91.8,"y":52.3},{"p":"d","k":"d14","t":"d","i":1,"x":93.0,"y":57.3},{"p":"d","k":"d14","t":"d","i":2,"x":95.8,"y":61.5},{"p":"d","k":"d14","t":"d","i":3,"x":98.6,"y":63.5},{"p":"d","k":"d14","t":"d","i":4,"x":103,"y":61.9},{"p":"d","k":"d14","t":"d","i":5,"x":103,"y":52.7},{"p":"d","k":"d14","t":"d","i":6,"x":98.1,"y":51.9},{"p":"d","k":"d14","t":"d","i":7,"x":94.9,"y":50.4},{"p":"d","k":"d14","t":"d","i":8,"x":92.4,"y":50.8},
{"p":"d","k":"d15","t":"d","i":0,"x":49.8,"y":49.6},{"p":"d","k":"d15","t":"d","i":1,"x":51.2,"y":52.1},{"p":"d","k":"d15","t":"d","i":2,"x":53.9,"y":52.8},{"p":"d","k":"d15","t":"d","i":3,"x":56.5,"y":50.4},{"p":"d","k":"d15","t":"d","i":4,"x":57.2,"y":47.3},{"p":"d","k":"d15","t":"d","i":5,"x":55.8,"y":44.6},{"p":"d","k":"d15","t":"d","i":6,"x":53.0,"y":44.2},{"p":"d","k":"d15","t":"d","i":7,"x":51.2,"y":46.2},
{"p":"d","k":"d16","t":"d","i":0,"x":6.5,"y":43.8},{"p":"d","k":"d16","t":"d","i":1,"x":7.9,"y":46.2},{"p":"d","k":"d16","t":"d","i":2,"x":10.5,"y":46.7},{"p":"d","k":"d16","t":"d","i":3,"x":12.4,"y":45.0},{"p":"d","k":"d16","t":"d","i":4,"x":11.6,"y":42.3},{"p":"d","k":"d16","t":"d","i":5,"x":8.8,"y":41.2},{"p":"d","k":"d16","t":"d","i":6,"x":7.0,"y":41.9},
{"p":"d","k":"d17","t":"d","i":0,"x":29.3,"y":35.8},{"p":"d","k":"d17","t":"d","i":1,"x":31.2,"y":38.1},{"p":"d","k":"d17","t":"d","i":2,"x":34.9,"y":40.8},{"p":"d","k":"d17","t":"d","i":3,"x":37.5,"y":41.0},{"p":"d","k":"d17","t":"d","i":4,"x":37.2,"y":38.8},{"p":"d","k":"d17","t":"d","i":5,"x":34.9,"y":35.8},{"p":"d","k":"d17","t":"d","i":6,"x":31.2,"y":34.6},
{"p":"d","k":"d18","t":"do","i":0,"x":44.7,"y":34.6},{"p":"d","k":"d18","t":"do","i":1,"x":46.9,"y":33.8},{"p":"d","k":"d18","t":"do","i":2,"x":47.7,"y":31.5},{"p":"d","k":"d18","t":"do","i":3,"x":46.1,"y":29.6},{"p":"d","k":"d18","t":"do","i":4,"x":45.0,"y":30.4},
{"p":"d","k":"d19","t":"s","i":0,"x":51.2,"y":29.6},{"p":"d","k":"d19","t":"s","i":1,"x":51.8,"y":32.3},{"p":"d","k":"d19","t":"s","i":2,"x":53.3,"y":33.1},{"p":"d","k":"d19","t":"s","i":3,"x":53.9,"y":31.9},{"p":"d","k":"d19","t":"s","i":4,"x":53.0,"y":30.0},
{"p":"d","k":"d20","t":"s","i":0,"x":-3,"y":30.0},{"p":"d","k":"d20","t":"s","i":1,"x":1.4,"y":32.3},{"p":"d","k":"d20","t":"s","i":2,"x":4.7,"y":33.5},{"p":"d","k":"d20","t":"s","i":3,"x":7.0,"y":32.7},{"p":"d","k":"d20","t":"s","i":4,"x":6.5,"y":30.0},{"p":"d","k":"d20","t":"s","i":5,"x":3.3,"y":26.5},{"p":"d","k":"d20","t":"s","i":6,"x":0,"y":23.1},{"p":"d","k":"d20","t":"s","i":7,"x":-3,"y":26.5},
{"p":"d","k":"d21","t":"d","i":0,"x":15.3,"y":20.4},{"p":"d","k":"d21","t":"d","i":1,"x":16.7,"y":24.2},{"p":"d","k":"d21","t":"d","i":2,"x":20.9,"y":26.2},{"p":"d","k":"d21","t":"d","i":3,"x":25.6,"y":27.2},{"p":"d","k":"d21","t":"d","i":4,"x":30.0,"y":27.5},{"p":"d","k":"d21","t":"d","i":5,"x":29.3,"y":25.8},{"p":"d","k":"d21","t":"d","i":6,"x":24.7,"y":23.5},{"p":"d","k":"d21","t":"d","i":7,"x":20.0,"y":20.4},{"p":"d","k":"d21","t":"d","i":8,"x":16.7,"y":17.7},{"p":"d","k":"d21","t":"d","i":9,"x":15.5,"y":18.5},
{"p":"d","k":"d22","t":"s","i":0,"x":38.4,"y":17.3},{"p":"d","k":"d22","t":"s","i":1,"x":39.5,"y":20.8},{"p":"d","k":"d22","t":"s","i":2,"x":41.9,"y":22.7},{"p":"d","k":"d22","t":"s","i":3,"x":43.7,"y":21.5},{"p":"d","k":"d22","t":"s","i":4,"x":43.3,"y":18.5},{"p":"d","k":"d22","t":"s","i":5,"x":40.9,"y":15.4},{"p":"d","k":"d22","t":"s","i":6,"x":38.6,"y":15.0},
{"p":"d","k":"d23","t":"s","i":0,"x":52.1,"y":17.3},{"p":"d","k":"d23","t":"s","i":1,"x":53.5,"y":20.8},{"p":"d","k":"d23","t":"s","i":2,"x":56.7,"y":23.1},{"p":"d","k":"d23","t":"s","i":3,"x":60.5,"y":24.1},{"p":"d","k":"d23","t":"s","i":4,"x":61.4,"y":21.9},{"p":"d","k":"d23","t":"s","i":5,"x":59.5,"y":18.1},{"p":"d","k":"d23","t":"s","i":6,"x":56.3,"y":15.4},{"p":"d","k":"d23","t":"s","i":7,"x":52.6,"y":14.6},
{"p":"d","k":"d24","t":"s","i":0,"x":55.2,"y":18.8},{"p":"d","k":"d24","t":"s","i":1,"x":55.8,"y":20.4},{"p":"d","k":"d24","t":"s","i":2,"x":57.7,"y":21.2},{"p":"d","k":"d24","t":"s","i":3,"x":58.9,"y":20.0},{"p":"d","k":"d24","t":"s","i":4,"x":58.1,"y":18.3},{"p":"d","k":"d24","t":"s","i":5,"x":56.3,"y":17.5},
{"p":"d","k":"d25","t":"s","i":0,"x":59.1,"y":40.4},{"p":"d","k":"d25","t":"s","i":1,"x":60.2,"y":43.5},{"p":"d","k":"d25","t":"s","i":2,"x":62.8,"y":46.2},{"p":"d","k":"d25","t":"s","i":3,"x":65.1,"y":46.5},{"p":"d","k":"d25","t":"s","i":4,"x":65.6,"y":44.2},{"p":"d","k":"d25","t":"s","i":5,"x":63.7,"y":40.8},{"p":"d","k":"d25","t":"s","i":6,"x":60.9,"y":38.2},{"p":"d","k":"d25","t":"s","i":7,"x":59.3,"y":38.5},
{"p":"d","k":"d26","t":"d","i":0,"x":69.5,"y":42.3},{"p":"d","k":"d26","t":"d","i":1,"x":70.2,"y":45.0},{"p":"d","k":"d26","t":"d","i":2,"x":71.9,"y":46.4},{"p":"d","k":"d26","t":"d","i":3,"x":72.6,"y":44.6},{"p":"d","k":"d26","t":"d","i":4,"x":71.6,"y":42.1},{"p":"d","k":"d26","t":"d","i":5,"x":70.2,"y":41.5},
{"p":"d","k":"d27","t":"s","i":0,"x":77.2,"y":41.2},{"p":"d","k":"d27","t":"s","i":1,"x":78.1,"y":44.6},{"p":"d","k":"d27","t":"s","i":2,"x":80.0,"y":47.5},{"p":"d","k":"d27","t":"s","i":3,"x":81.9,"y":46.9},{"p":"d","k":"d27","t":"s","i":4,"x":81.4,"y":43.8},{"p":"d","k":"d27","t":"s","i":5,"x":79.5,"y":40.8},{"p":"d","k":"d27","t":"s","i":6,"x":77.7,"y":39.8},
{"p":"d","k":"d28","t":"s","i":0,"x":64.8,"y":31.2},{"p":"d","k":"d28","t":"s","i":1,"x":66.0,"y":35.0},{"p":"d","k":"d28","t":"s","i":2,"x":69.3,"y":37.2},{"p":"d","k":"d28","t":"s","i":3,"x":72.6,"y":36.9},{"p":"d","k":"d28","t":"s","i":4,"x":73.5,"y":34.2},{"p":"d","k":"d28","t":"s","i":5,"x":71.6,"y":30.8},{"p":"d","k":"d28","t":"s","i":6,"x":68.4,"y":28.7},{"p":"d","k":"d28","t":"s","i":7,"x":65.4,"y":29.0},
{"p":"d","k":"d29","t":"s","i":0,"x":67.4,"y":32.3},{"p":"d","k":"d29","t":"s","i":1,"x":67.9,"y":34.2},{"p":"d","k":"d29","t":"s","i":2,"x":69.3,"y":35.0},{"p":"d","k":"d29","t":"s","i":3,"x":70.7,"y":33.8},{"p":"d","k":"d29","t":"s","i":4,"x":70.1,"y":31.7},{"p":"d","k":"d29","t":"s","i":5,"x":68.4,"y":31.2},
{"p":"d","k":"d30","t":"d","i":0,"x":72.1,"y":27.3},{"p":"d","k":"d30","t":"d","i":1,"x":73.0,"y":30.4},{"p":"d","k":"d30","t":"d","i":2,"x":75.3,"y":32.3},{"p":"d","k":"d30","t":"d","i":3,"x":77.4,"y":31.2},{"p":"d","k":"d30","t":"d","i":4,"x":76.9,"y":28.5},{"p":"d","k":"d30","t":"d","i":5,"x":74.7,"y":26.3},{"p":"d","k":"d30","t":"d","i":6,"x":72.6,"y":26.4},
{"p":"d","k":"d31","t":"s","i":0,"x":80.5,"y":31.5},{"p":"d","k":"d31","t":"s","i":1,"x":81.2,"y":35.0},{"p":"d","k":"d31","t":"s","i":2,"x":84.0,"y":37.3},{"p":"d","k":"d31","t":"s","i":3,"x":87.2,"y":37.1},{"p":"d","k":"d31","t":"s","i":4,"x":88.4,"y":34.6},{"p":"d","k":"d31","t":"s","i":5,"x":87.0,"y":30.8},{"p":"d","k":"d31","t":"s","i":6,"x":84.2,"y":28.5},{"p":"d","k":"d31","t":"s","i":7,"x":81.4,"y":29.2},
{"p":"d","k":"d32","t":"s","i":0,"x":83.1,"y":33.1},{"p":"d","k":"d32","t":"s","i":1,"x":83.5,"y":34.6},{"p":"d","k":"d32","t":"s","i":2,"x":84.9,"y":35.2},{"p":"d","k":"d32","t":"s","i":3,"x":86.0,"y":34.2},{"p":"d","k":"d32","t":"s","i":4,"x":85.6,"y":32.3},{"p":"d","k":"d32","t":"s","i":5,"x":84.0,"y":31.5},
{"p":"d","k":"d33","t":"d","i":0,"x":90.9,"y":30.8},{"p":"d","k":"d33","t":"d","i":1,"x":92.1,"y":34.2},{"p":"d","k":"d33","t":"d","i":2,"x":95.3,"y":38.8},{"p":"d","k":"d33","t":"d","i":3,"x":98.6,"y":43.1},{"p":"d","k":"d33","t":"d","i":4,"x":100.5,"y":41.9},{"p":"d","k":"d33","t":"d","i":5,"x":99.1,"y":37.3},{"p":"d","k":"d33","t":"d","i":6,"x":95.8,"y":33.1},{"p":"d","k":"d33","t":"d","i":7,"x":92.6,"y":29.6},
{"p":"d","k":"d34","t":"s","i":0,"x":89.8,"y":22.7},{"p":"d","k":"d34","t":"s","i":1,"x":91.2,"y":25.0},{"p":"d","k":"d34","t":"s","i":2,"x":95.3,"y":26.7},{"p":"d","k":"d34","t":"s","i":3,"x":99.5,"y":27.5},{"p":"d","k":"d34","t":"s","i":4,"x":103,"y":26.5},{"p":"d","k":"d34","t":"s","i":5,"x":103,"y":23.1},{"p":"d","k":"d34","t":"s","i":6,"x":98.1,"y":23.1},{"p":"d","k":"d34","t":"s","i":7,"x":93.5,"y":21.8},{"p":"d","k":"d34","t":"s","i":8,"x":89.8,"y":21.3},
{"p":"d","k":"d35","t":"s","i":0,"x":94.0,"y":11.2},{"p":"d","k":"d35","t":"s","i":1,"x":94.7,"y":13.8},{"p":"d","k":"d35","t":"s","i":2,"x":97.0,"y":15.8},{"p":"d","k":"d35","t":"s","i":3,"x":99.8,"y":17.3},{"p":"d","k":"d35","t":"s","i":4,"x":103,"y":15.8},{"p":"d","k":"d35","t":"s","i":5,"x":103,"y":10.4},{"p":"d","k":"d35","t":"s","i":6,"x":98.1,"y":11.2},{"p":"d","k":"d35","t":"s","i":7,"x":95.3,"y":10.0},
{"p":"d","k":"d36","t":"d","i":0,"x":65.1,"y":5.0},{"p":"d","k":"d36","t":"d","i":1,"x":66.5,"y":8.1},{"p":"d","k":"d36","t":"d","i":2,"x":70.2,"y":12.3},{"p":"d","k":"d36","t":"d","i":3,"x":74.0,"y":16.5},{"p":"d","k":"d36","t":"d","i":4,"x":77.7,"y":20.0},{"p":"d","k":"d36","t":"d","i":5,"x":81.4,"y":22.5},{"p":"d","k":"d36","t":"d","i":6,"x":82.8,"y":21.2},{"p":"d","k":"d36","t":"d","i":7,"x":81.4,"y":18.1},{"p":"d","k":"d36","t":"d","i":8,"x":77.7,"y":14.2},{"p":"d","k":"d36","t":"d","i":9,"x":74.0,"y":10.4},{"p":"d","k":"d36","t":"d","i":10,"x":70.2,"y":6.5},{"p":"d","k":"d36","t":"d","i":11,"x":67.0,"y":3.8},
{"p":"d","k":"d37","t":"d","i":0,"x":78.6,"y":1.9},{"p":"d","k":"d37","t":"d","i":1,"x":79.1,"y":6.5},{"p":"d","k":"d37","t":"d","i":2,"x":81.9,"y":10.4},{"p":"d","k":"d37","t":"d","i":3,"x":86.0,"y":12.1},{"p":"d","k":"d37","t":"d","i":4,"x":89.0,"y":11.2},{"p":"d","k":"d37","t":"d","i":5,"x":88.8,"y":7.7},{"p":"d","k":"d37","t":"d","i":6,"x":86.0,"y":3.5},{"p":"d","k":"d37","t":"d","i":7,"x":82.8,"y":0.4},{"p":"d","k":"d37","t":"d","i":8,"x":79.5,"y":-1},
{"p":"d","k":"d38","t":"d","i":0,"x":81.4,"y":5.8},{"p":"d","k":"d38","t":"d","i":1,"x":82.3,"y":7.7},{"p":"d","k":"d38","t":"d","i":2,"x":83.7,"y":8.1},{"p":"d","k":"d38","t":"d","i":3,"x":84.7,"y":6.9},{"p":"d","k":"d38","t":"d","i":4,"x":83.7,"y":4.8},{"p":"d","k":"d38","t":"d","i":5,"x":82.1,"y":4.6},
{"p":"d","k":"d39","t":"do","i":0,"x":93.3,"y":-1},{"p":"d","k":"d39","t":"do","i":1,"x":94.9,"y":3.5},{"p":"d","k":"d39","t":"do","i":2,"x":97.7,"y":5.6},{"p":"d","k":"d39","t":"do","i":3,"x":101,"y":5.8},
{"p":"d","k":"d40","t":"s","i":0,"x":51.6,"y":-2},{"p":"d","k":"d40","t":"s","i":1,"x":54.4,"y":4.2},{"p":"d","k":"d40","t":"s","i":2,"x":57.7,"y":7.3},{"p":"d","k":"d40","t":"s","i":3,"x":60.5,"y":8.7},{"p":"d","k":"d40","t":"s","i":4,"x":61.4,"y":6.5},{"p":"d","k":"d40","t":"s","i":5,"x":60.0,"y":-2},{"p":"d","k":"d40","t":"s","i":6,"x":56.3,"y":-4},
{"p":"d","k":"d41","t":"s","i":0,"x":7.9,"y":6.5},{"p":"d","k":"d41","t":"s","i":1,"x":9.0,"y":8.8},{"p":"d","k":"d41","t":"s","i":2,"x":12.1,"y":10.0},{"p":"d","k":"d41","t":"s","i":3,"x":15.1,"y":8.8},{"p":"d","k":"d41","t":"s","i":4,"x":15.3,"y":6.3},{"p":"d","k":"d41","t":"s","i":5,"x":13.5,"y":4.2},{"p":"d","k":"d41","t":"s","i":6,"x":10.2,"y":3.6},{"p":"d","k":"d41","t":"s","i":7,"x":8.4,"y":4.6},
{"p":"d","k":"d42","t":"s","i":0,"x":10.5,"y":6.9},{"p":"d","k":"d42","t":"s","i":1,"x":11.2,"y":7.7},{"p":"d","k":"d42","t":"s","i":2,"x":12.1,"y":7.3},{"p":"d","k":"d42","t":"s","i":3,"x":11.9,"y":6.3},{"p":"d","k":"d42","t":"s","i":4,"x":10.7,"y":6.2},
{"p":"d","k":"d43","t":"do","i":0,"x":16.7,"y":-1},{"p":"d","k":"d43","t":"do","i":1,"x":17.7,"y":4.6},{"p":"d","k":"d43","t":"do","i":2,"x":20.5,"y":6.9},{"p":"d","k":"d43","t":"do","i":3,"x":23.3,"y":5.8},{"p":"d","k":"d43","t":"do","i":4,"x":24.7,"y":1.9},
{"p":"e","k":"e1","t":"s","i":0,"x":43.9,"y":46.2},{"p":"e","k":"e1","t":"s","i":1,"x":45.2,"y":49.4},{"p":"e","k":"e1","t":"s","i":2,"x":49.3,"y":51.0},{"p":"e","k":"e1","t":"s","i":3,"x":53.8,"y":50.6},{"p":"e","k":"e1","t":"s","i":4,"x":57.0,"y":47.8},{"p":"e","k":"e1","t":"s","i":5,"x":57.5,"y":44.8},{"p":"e","k":"e1","t":"s","i":6,"x":55.2,"y":41.9},{"p":"e","k":"e1","t":"s","i":7,"x":50.2,"y":39.9},{"p":"e","k":"e1","t":"s","i":8,"x":46.6,"y":41.3},{"p":"e","k":"e1","t":"s","i":9,"x":44.3,"y":43.5},
{"p":"e","k":"e2","t":"s","i":0,"x":46.7,"y":45.9},{"p":"e","k":"e2","t":"s","i":1,"x":47.5,"y":48.2},{"p":"e","k":"e2","t":"s","i":2,"x":50.2,"y":49.1},{"p":"e","k":"e2","t":"s","i":3,"x":53.4,"y":48.2},{"p":"e","k":"e2","t":"s","i":4,"x":54.5,"y":45.6},{"p":"e","k":"e2","t":"s","i":5,"x":53.4,"y":43.5},{"p":"e","k":"e2","t":"s","i":6,"x":50.2,"y":42.7},{"p":"e","k":"e2","t":"s","i":7,"x":47.5,"y":43.7},
{"p":"e","k":"e3","t":"s","i":0,"x":52.9,"y":96.0},{"p":"e","k":"e3","t":"s","i":1,"x":54.3,"y":97.6},{"p":"e","k":"e3","t":"s","i":2,"x":57.0,"y":97.2},{"p":"e","k":"e3","t":"s","i":3,"x":61.5,"y":94.3},{"p":"e","k":"e3","t":"s","i":4,"x":65.2,"y":91.9},{"p":"e","k":"e3","t":"s","i":5,"x":65.9,"y":89.5},{"p":"e","k":"e3","t":"s","i":6,"x":64.3,"y":88.3},{"p":"e","k":"e3","t":"s","i":7,"x":60.6,"y":89.9},{"p":"e","k":"e3","t":"s","i":8,"x":56.1,"y":92.3},{"p":"e","k":"e3","t":"s","i":9,"x":53.4,"y":93.9},
{"p":"e","k":"e4","t":"so","i":0,"x":82.8,"y":101},{"p":"e","k":"e4","t":"so","i":1,"x":83.3,"y":98.8},{"p":"e","k":"e4","t":"so","i":2,"x":85.1,"y":98.3},{"p":"e","k":"e4","t":"so","i":3,"x":86.7,"y":98.8},{"p":"e","k":"e4","t":"so","i":4,"x":86.9,"y":101},
{"p":"e","k":"e5","t":"d","i":0,"x":80.1,"y":38.9},{"p":"e","k":"e5","t":"d","i":1,"x":81.4,"y":40.1},{"p":"e","k":"e5","t":"d","i":2,"x":83.1,"y":38.9},{"p":"e","k":"e5","t":"d","i":3,"x":82.4,"y":37.2},{"p":"e","k":"e5","t":"d","i":4,"x":81.0,"y":37.5},
{"p":"e","k":"e6","t":"so","i":0,"x":0,"y":25.9},{"p":"e","k":"e6","t":"so","i":1,"x":3.6,"y":26.7},{"p":"e","k":"e6","t":"so","i":2,"x":7.7,"y":27.3},{"p":"e","k":"e6","t":"so","i":3,"x":10.7,"y":26.3},{"p":"e","k":"e6","t":"so","i":4,"x":13.8,"y":23.6},{"p":"e","k":"e6","t":"so","i":5,"x":10.1,"y":21.9},{"p":"e","k":"e6","t":"so","i":6,"x":8.1,"y":18.6},{"p":"e","k":"e6","t":"so","i":7,"x":9.5,"y":15.4},{"p":"e","k":"e6","t":"so","i":8,"x":10.2,"y":11.6},{"p":"e","k":"e6","t":"so","i":9,"x":7.7,"y":10.1},{"p":"e","k":"e6","t":"so","i":10,"x":4.5,"y":10.5},{"p":"e","k":"e6","t":"so","i":11,"x":2.9,"y":13.5},{"p":"e","k":"e6","t":"so","i":12,"x":2.0,"y":16.6},{"p":"e","k":"e6","t":"so","i":13,"x":0,"y":17.8},
{"p":"e","k":"e7","t":"s","i":0,"x":0.4,"y":22.1},{"p":"e","k":"e7","t":"s","i":1,"x":1.4,"y":23.2},{"p":"e","k":"e7","t":"s","i":2,"x":3.4,"y":23.1},{"p":"e","k":"e7","t":"s","i":3,"x":4.1,"y":21.5},{"p":"e","k":"e7","t":"s","i":4,"x":2.7,"y":20.2},{"p":"e","k":"e7","t":"s","i":5,"x":0.9,"y":20.6},
{"p":"e","k":"e8","t":"d","i":0,"x":19.0,"y":13.8},{"p":"e","k":"e8","t":"d","i":1,"x":21.0,"y":15.4},{"p":"e","k":"e8","t":"d","i":2,"x":23.5,"y":16.2},{"p":"e","k":"e8","t":"d","i":3,"x":24.5,"y":19.8},{"p":"e","k":"e8","t":"d","i":4,"x":27.0,"y":22.3},{"p":"e","k":"e8","t":"d","i":5,"x":29.4,"y":21.1},{"p":"e","k":"e8","t":"d","i":6,"x":30.6,"y":17.4},{"p":"e","k":"e8","t":"d","i":7,"x":28.1,"y":14.2},{"p":"e","k":"e8","t":"d","i":8,"x":25.8,"y":10.9},{"p":"e","k":"e8","t":"d","i":9,"x":24.9,"y":8.3},{"p":"e","k":"e8","t":"d","i":10,"x":22.2,"y":9.3},{"p":"e","k":"e8","t":"d","i":11,"x":19.7,"y":11.3},
{"p":"e","k":"e9","t":"s","i":0,"x":45.4,"y":10.9},{"p":"e","k":"e9","t":"s","i":1,"x":47.1,"y":12.1},{"p":"e","k":"e9","t":"s","i":2,"x":50.2,"y":11.9},{"p":"e","k":"e9","t":"s","i":3,"x":53.8,"y":10.1},{"p":"e","k":"e9","t":"s","i":4,"x":57.2,"y":8.1},{"p":"e","k":"e9","t":"s","i":5,"x":56.6,"y":6.5},{"p":"e","k":"e9","t":"s","i":6,"x":51.6,"y":6.1},{"p":"e","k":"e9","t":"s","i":7,"x":47.9,"y":7.3},{"p":"e","k":"e9","t":"s","i":8,"x":45.9,"y":9.1},
{"p":"e","k":"e10","t":"so","i":0,"x":5.4,"y":-1},{"p":"e","k":"e10","t":"so","i":1,"x":6.8,"y":1.1},{"p":"e","k":"e10","t":"so","i":2,"x":8.3,"y":-1},
{"p":"e","k":"e11","t":"so","i":0,"x":44.5,"y":-1},{"p":"e","k":"e11","t":"so","i":1,"x":45.5,"y":0.6},{"p":"e","k":"e11","t":"so","i":2,"x":46.8,"y":-1},
{"p":"f","k":"f1","t":"s","i":0,"x":45.3,"y":48.6},{"p":"f","k":"f1","t":"s","i":1,"x":46.3,"y":52.5},{"p":"f","k":"f1","t":"s","i":2,"x":50.0,"y":55.2},{"p":"f","k":"f1","t":"s","i":3,"x":53.3,"y":53.7},{"p":"f","k":"f1","t":"s","i":4,"x":54.4,"y":49.0},{"p":"f","k":"f1","t":"s","i":5,"x":53.3,"y":44.4},{"p":"f","k":"f1","t":"s","i":6,"x":50.0,"y":41.7},{"p":"f","k":"f1","t":"s","i":7,"x":46.7,"y":43.6},
{"p":"f","k":"f2","t":"s","i":0,"x":48.1,"y":49.0},{"p":"f","k":"f2","t":"s","i":1,"x":49.1,"y":51.2},{"p":"f","k":"f2","t":"s","i":2,"x":50.9,"y":51.5},{"p":"f","k":"f2","t":"s","i":3,"x":52.1,"y":49.4},{"p":"f","k":"f2","t":"s","i":4,"x":51.6,"y":46.7},{"p":"f","k":"f2","t":"s","i":5,"x":49.7,"y":45.6},{"p":"f","k":"f2","t":"s","i":6,"x":48.4,"y":46.9},
{"p":"f","k":"f3","t":"d","i":0,"x":11.4,"y":45.9},{"p":"f","k":"f3","t":"d","i":1,"x":12.1,"y":50.6},{"p":"f","k":"f3","t":"d","i":2,"x":14.0,"y":54.4},{"p":"f","k":"f3","t":"d","i":3,"x":16.4,"y":56.1},{"p":"f","k":"f3","t":"d","i":4,"x":18.2,"y":54.4},{"p":"f","k":"f3","t":"d","i":5,"x":17.9,"y":49.0},{"p":"f","k":"f3","t":"d","i":6,"x":16.4,"y":44.4},{"p":"f","k":"f3","t":"d","i":7,"x":14.2,"y":42.1},{"p":"f","k":"f3","t":"d","i":8,"x":11.7,"y":43.2},
{"p":"f","k":"f4","t":"d","i":0,"x":43.5,"y":67.6},{"p":"f","k":"f4","t":"d","i":1,"x":44.9,"y":70.7},{"p":"f","k":"f4","t":"d","i":2,"x":47.7,"y":72.4},{"p":"f","k":"f4","t":"d","i":3,"x":50.5,"y":71.0},{"p":"f","k":"f4","t":"d","i":4,"x":50.9,"y":67.2},{"p":"f","k":"f4","t":"d","i":5,"x":49.1,"y":64.1},{"p":"f","k":"f4","t":"d","i":6,"x":46.7,"y":62.9},{"p":"f","k":"f4","t":"d","i":7,"x":43.9,"y":64.9},
{"p":"f","k":"f5","t":"d","i":0,"x":35.0,"y":79.5},{"p":"f","k":"f5","t":"d","i":1,"x":36.0,"y":81.9},{"p":"f","k":"f5","t":"d","i":2,"x":37.9,"y":81.5},{"p":"f","k":"f5","t":"d","i":3,"x":38.5,"y":79.5},{"p":"f","k":"f5","t":"d","i":4,"x":37.4,"y":77.8},{"p":"f","k":"f5","t":"d","i":5,"x":35.7,"y":78.0},
{"p":"f","k":"f6","t":"d","i":0,"x":88.3,"y":79.9},{"p":"f","k":"f6","t":"d","i":1,"x":89.7,"y":83.8},{"p":"f","k":"f6","t":"d","i":2,"x":93.9,"y":86.0},{"p":"f","k":"f6","t":"d","i":3,"x":97.7,"y":85.0},{"p":"f","k":"f6","t":"d","i":4,"x":99.1,"y":82.7},{"p":"f","k":"f6","t":"d","i":5,"x":97.2,"y":78.4},{"p":"f","k":"f6","t":"d","i":6,"x":94.4,"y":76.4},{"p":"f","k":"f6","t":"d","i":7,"x":90.2,"y":75.7},
{"p":"f","k":"f7","t":"d","i":0,"x":90.7,"y":80.8},{"p":"f","k":"f7","t":"d","i":1,"x":91.6,"y":82.7},{"p":"f","k":"f7","t":"d","i":2,"x":94.4,"y":84.0},{"p":"f","k":"f7","t":"d","i":3,"x":96.7,"y":83.1},{"p":"f","k":"f7","t":"d","i":4,"x":96.3,"y":80.4},{"p":"f","k":"f7","t":"d","i":5,"x":93.9,"y":78.5},{"p":"f","k":"f7","t":"d","i":6,"x":91.6,"y":78.5},
{"p":"f","k":"f8","t":"d","i":0,"x":48.6,"y":29.0},{"p":"f","k":"f8","t":"d","i":1,"x":50.0,"y":32.8},{"p":"f","k":"f8","t":"d","i":2,"x":53.7,"y":35.5},{"p":"f","k":"f8","t":"d","i":3,"x":56.5,"y":35.8},{"p":"f","k":"f8","t":"d","i":4,"x":59.3,"y":33.2},{"p":"f","k":"f8","t":"d","i":5,"x":59.8,"y":29.0},{"p":"f","k":"f8","t":"d","i":6,"x":57.9,"y":23.6},{"p":"f","k":"f8","t":"d","i":7,"x":54.2,"y":19.8},{"p":"f","k":"f8","t":"d","i":8,"x":50.9,"y":20.1},{"p":"f","k":"f8","t":"d","i":9,"x":48.8,"y":23.6},
{"p":"f","k":"f9","t":"d","i":0,"x":51.4,"y":28.2},{"p":"f","k":"f9","t":"d","i":1,"x":52.1,"y":30.5},{"p":"f","k":"f9","t":"d","i":2,"x":54.0,"y":31.7},{"p":"f","k":"f9","t":"d","i":3,"x":56.5,"y":30.5},{"p":"f","k":"f9","t":"d","i":4,"x":57.0,"y":27.8},{"p":"f","k":"f9","t":"d","i":5,"x":55.3,"y":25.1},{"p":"f","k":"f9","t":"d","i":6,"x":52.8,"y":24.2},{"p":"f","k":"f9","t":"d","i":7,"x":51.4,"y":25.9},
{"p":"f","k":"f10","t":"d","i":0,"x":75.7,"y":23.6},{"p":"f","k":"f10","t":"d","i":1,"x":76.9,"y":27.0},{"p":"f","k":"f10","t":"d","i":2,"x":79.7,"y":29.1},{"p":"f","k":"f10","t":"d","i":3,"x":83.0,"y":28.6},{"p":"f","k":"f10","t":"d","i":4,"x":85.7,"y":25.1},{"p":"f","k":"f10","t":"d","i":5,"x":85.0,"y":20.5},{"p":"f","k":"f10","t":"d","i":6,"x":81.8,"y":17.4},{"p":"f","k":"f10","t":"d","i":7,"x":78.3,"y":17.4},{"p":"f","k":"f10","t":"d","i":8,"x":76.4,"y":19.7},
{"p":"f","k":"f11","t":"d","i":0,"x":78.5,"y":23.9},{"p":"f","k":"f11","t":"d","i":1,"x":79.3,"y":25.5},{"p":"f","k":"f11","t":"d","i":2,"x":80.8,"y":26.0},{"p":"f","k":"f11","t":"d","i":3,"x":82.7,"y":24.7},{"p":"f","k":"f11","t":"d","i":4,"x":82.4,"y":22.0},{"p":"f","k":"f11","t":"d","i":5,"x":80.8,"y":20.8},{"p":"f","k":"f11","t":"d","i":6,"x":79.0,"y":21.6},
{"p":"f","k":"f12","t":"d","i":0,"x":91.3,"y":18.9},{"p":"f","k":"f12","t":"d","i":1,"x":92.5,"y":22.0},{"p":"f","k":"f12","t":"d","i":2,"x":94.4,"y":22.8},{"p":"f","k":"f12","t":"d","i":3,"x":97.2,"y":21.2},{"p":"f","k":"f12","t":"d","i":4,"x":98.9,"y":18.1},{"p":"f","k":"f12","t":"d","i":5,"x":97.7,"y":14.3},{"p":"f","k":"f12","t":"d","i":6,"x":94.9,"y":12.6},{"p":"f","k":"f12","t":"d","i":7,"x":92.4,"y":13.5},{"p":"f","k":"f12","t":"d","i":8,"x":91.5,"y":16.2},
{"p":"f","k":"f13","t":"d","i":0,"x":103,"y":7.0},{"p":"f","k":"f13","t":"d","i":1,"x":97.7,"y":5.6},{"p":"f","k":"f13","t":"d","i":2,"x":95.8,"y":3.5},{"p":"f","k":"f13","t":"d","i":3,"x":96.1,"y":1.0},{"p":"f","k":"f13","t":"d","i":4,"x":103,"y":0.8},
{"p":"f","k":"f14","t":"s","i":0,"x":-3,"y":20.8},{"p":"f","k":"f14","t":"s","i":1,"x":2.3,"y":21.4},{"p":"f","k":"f14","t":"s","i":2,"x":4.5,"y":19.8},{"p":"f","k":"f14","t":"s","i":3,"x":3.7,"y":16.6},{"p":"f","k":"f14","t":"s","i":4,"x":1.4,"y":15.1},{"p":"f","k":"f14","t":"s","i":5,"x":-3,"y":14.7},
{"p":"f","k":"f15","t":"so","i":0,"x":62.6,"y":-1},{"p":"f","k":"f15","t":"so","i":1,"x":64.0,"y":3.5},{"p":"f","k":"f15","t":"so","i":2,"x":67.3,"y":6.6},{"p":"f","k":"f15","t":"so","i":3,"x":70.6,"y":7.5},{"p":"f","k":"f15","t":"so","i":4,"x":72.9,"y":5.8},{"p":"f","k":"f15","t":"so","i":5,"x":74.8,"y":2.7},{"p":"f","k":"f15","t":"so","i":6,"x":77.6,"y":3.9},{"p":"f","k":"f15","t":"so","i":7,"x":80.8,"y":5.2},{"p":"f","k":"f15","t":"so","i":8,"x":84.1,"y":4.6},{"p":"f","k":"f15","t":"so","i":9,"x":85.8,"y":2.7},{"p":"f","k":"f15","t":"so","i":10,"x":86.0,"y":-1},
{"p":"f","k":"f16","t":"s","i":0,"x":66.7,"y":1.3},{"p":"f","k":"f16","t":"s","i":1,"x":67.3,"y":2.9},{"p":"f","k":"f16","t":"s","i":2,"x":68.7,"y":3.3},{"p":"f","k":"f16","t":"s","i":3,"x":69.8,"y":2.1},{"p":"f","k":"f16","t":"s","i":4,"x":69.3,"y":0.4},{"p":"f","k":"f16","t":"s","i":5,"x":67.8,"y":0},
{"p":"f","k":"f17","t":"so","i":0,"x":78.0,"y":-1},{"p":"f","k":"f17","t":"so","i":1,"x":79.0,"y":1.5},{"p":"f","k":"f17","t":"so","i":2,"x":80.8,"y":2.5},{"p":"f","k":"f17","t":"so","i":3,"x":82.9,"y":1.5},{"p":"f","k":"f17","t":"so","i":4,"x":83.9,"y":-1},
{"p":"f","k":"f18","t":"so","i":0,"x":40.7,"y":88.0},{"p":"f","k":"f18","t":"so","i":1,"x":42.5,"y":85.5},{"p":"f","k":"f18","t":"so","i":2,"x":44.9,"y":84.3},{"p":"f","k":"f18","t":"so","i":3,"x":47.7,"y":85.2},{"p":"f","k":"f18","t":"so","i":4,"x":50.9,"y":88.4},{"p":"f","k":"f18","t":"so","i":5,"x":54.2,"y":92.3},{"p":"f","k":"f18","t":"so","i":6,"x":55.9,"y":96.1},{"p":"f","k":"f18","t":"so","i":7,"x":54.7,"y":98.6},{"p":"f","k":"f18","t":"so","i":8,"x":51.9,"y":99.4},{"p":"f","k":"f18","t":"so","i":9,"x":49.1,"y":99.1},
{"p":"f","k":"f19","t":"so","i":0,"x":42.8,"y":88.6},{"p":"f","k":"f19","t":"so","i":1,"x":44.7,"y":87.8},{"p":"f","k":"f19","t":"so","i":2,"x":46.7,"y":88.4},
{"p":"f","k":"f20","t":"s","i":0,"x":56.5,"y":86.5},{"p":"f","k":"f20","t":"s","i":1,"x":57.0,"y":89.9},{"p":"f","k":"f20","t":"s","i":2,"x":58.9,"y":92.6},{"p":"f","k":"f20","t":"s","i":3,"x":62.6,"y":93.9},{"p":"f","k":"f20","t":"s","i":4,"x":65.9,"y":96.1},{"p":"f","k":"f20","t":"s","i":5,"x":68.2,"y":98.5},{"p":"f","k":"f20","t":"s","i":6,"x":70.6,"y":98.6},{"p":"f","k":"f20","t":"s","i":7,"x":71.0,"y":96.9},{"p":"f","k":"f20","t":"s","i":8,"x":68.2,"y":93.1},{"p":"f","k":"f20","t":"s","i":9,"x":65.4,"y":88.8},{"p":"f","k":"f20","t":"s","i":10,"x":62.6,"y":84.9},{"p":"f","k":"f20","t":"s","i":11,"x":59.3,"y":83.4},{"p":"f","k":"f20","t":"s","i":12,"x":57.0,"y":84.2}
]},
"columns":1,
"align":"none",
"spacing":48.7,
"concat":[
{"hconcat":[
{"width":439,"height":437,"resolve":{"axis":{"x":"independent","y":"independent"}},
"encoding":{"x":{"field":"x","type":"quantitative","scale":{"domain":[0,100],"nice":false,"zero":false},"axis":null},"y":{"field":"y","type":"quantitative","scale":{"domain":[0,100],"nice":false,"zero":false},"axis":null}},
"layer":[
{"data":{"name":"c"},"transform":[{"filter":"datum.p=='a'&&datum.t=='s'"}],"mark":{"type":"line","interpolate":"cardinal-closed","stroke":"black","strokeWidth":2.2,"clip":true},
"encoding":{"x":{"field":"x","type":"quantitative","scale":{"domain":[0,100],"nice":false,"zero":false},"axis":{"orient":"bottom","title":null,"values":[7.5,19.7,31.9,44.1,56.2,68.4,80.6,92.8],"labelExpr":"datum.value==19.7?'00\u200208\u200250':datum.value==80.6?'00\u200208\u200245':''","labelPadding":31,"minExtent":55.2,"maxExtent":55.2}},
"y":{"field":"y","type":"quantitative","scale":{"domain":[0,100],"nice":false,"zero":false},"axis":{"orient":"left","title":null,"values":[11.1,26.6,42.1,57.6,73.2,88.7],"labelExpr":"datum.value==11.1?'58\u200232\u200240':datum.value==42.1?'58\u200233\u200200':datum.value==73.2?'58\u200233\u200220':''","labelPadding":28,"minExtent":135.4,"maxExtent":135.4}},
"detail":{"field":"k"},"order":{"field":"i"}}},
{"data":{"name":"c"},"transform":[{"filter":"datum.p=='a'&&datum.t=='d'"}],"mark":{"type":"line","interpolate":"cardinal-closed","stroke":"black","strokeWidth":2.2,"strokeDash":[2.5,4],"clip":true},"encoding":{"detail":{"field":"k"},"order":{"field":"i"}}},
{"data":{"name":"c"},"transform":[{"filter":"datum.p=='a'&&datum.t=='so'"}],"mark":{"type":"line","interpolate":"cardinal","stroke":"black","strokeWidth":2.2,"clip":true},"encoding":{"detail":{"field":"k"},"order":{"field":"i"}}},
{"data":{"name":"c"},"transform":[{"filter":"datum.p=='a'&&datum.t=='do'"}],"mark":{"type":"line","interpolate":"cardinal","stroke":"black","strokeWidth":2.2,"strokeDash":[2.5,4],"clip":true},"encoding":{"detail":{"field":"k"},"order":{"field":"i"}}},
{"data":{"name":"m"},"transform":[{"filter":"datum.p=='a'"}],"mark":{"type":"point","shape":"M-1,0L1,0M0,-1L0,1","size":576,"filled":false,"stroke":"black","strokeWidth":2.4,"opacity":1,"clip":true},
"encoding":{"x":{"field":"x","type":"quantitative","scale":{"domain":[0,100],"nice":false,"zero":false},"axis":{"orient":"top","title":null,"labels":false,"values":[7.5,19.7,31.9,44.1,56.2,68.4,80.6,92.8],"minExtent":0,"maxExtent":0}},
"y":{"field":"y","type":"quantitative","scale":{"domain":[0,100],"nice":false,"zero":false},"axis":{"orient":"right","title":null,"labels":false,"values":[11.1,26.6,42.1,57.6,73.2,88.7],"minExtent":0,"maxExtent":0}}}},
{"data":{"name":"t"},"transform":[{"filter":"datum.p=='a'&&datum.k=='title'"}],"mark":{"type":"text","font":"Liberation Serif","fontSize":40,"align":"left","baseline":"alphabetic","color":"black","clip":true},"encoding":{"text":{"field":"label"}}},
{"data":{"name":"t"},"transform":[{"filter":"datum.p=='a'&&datum.k=='ann'"}],"mark":{"type":"text","font":"Liberation Serif","fontSize":22,"fontWeight":"bold","align":"left","baseline":"alphabetic","color":"black","clip":true},"encoding":{"text":{"field":"label"}}}
]},
{"width":435,"height":437,"resolve":{"axis":{"x":"independent","y":"independent"}},
"encoding":{"x":{"field":"x","type":"quantitative","scale":{"domain":[0,100],"nice":false,"zero":false},"axis":null},"y":{"field":"y","type":"quantitative","scale":{"domain":[0,100],"nice":false,"zero":false},"axis":null}},
"layer":[
{"data":{"name":"c"},"transform":[{"filter":"datum.p=='b'&&datum.t=='s'"}],"mark":{"type":"line","interpolate":"cardinal-closed","stroke":"black","strokeWidth":2.2,"clip":true},
"encoding":{"x":{"field":"x","type":"quantitative","scale":{"domain":[0,100],"nice":false,"zero":false},"axis":{"orient":"bottom","title":null,"values":[9.5,18.3,27.1,35.9,44.7,53.5,62.3,71.1,79.8,88.6,97.4],"labelExpr":"datum.value==27.1?'20\u200218\u200244':datum.value==62.3?'20\u200218\u200242':datum.value==97.4?'20\u200218\u200240':''","labelPadding":31,"minExtent":55.2,"maxExtent":55.2}},
"y":{"field":"y","type":"quantitative","scale":{"domain":[0,100],"nice":false,"zero":false},"axis":{"orient":"left","title":null,"values":[6.7,22.2,37.7,53.3,68.8,84.3],"labelExpr":"datum.value==22.2?'41\u200212\u200200':datum.value==53.3?'41\u200212\u200220':datum.value==84.3?'41\u200212\u200240':''","labelPadding":25,"minExtent":130,"maxExtent":130}},
"detail":{"field":"k"},"order":{"field":"i"}}},
{"data":{"name":"c"},"transform":[{"filter":"datum.p=='b'&&datum.t=='d'"}],"mark":{"type":"line","interpolate":"cardinal-closed","stroke":"black","strokeWidth":2.2,"strokeDash":[2.5,4],"clip":true},"encoding":{"detail":{"field":"k"},"order":{"field":"i"}}},
{"data":{"name":"c"},"transform":[{"filter":"datum.p=='b'&&datum.t=='so'"}],"mark":{"type":"line","interpolate":"cardinal","stroke":"black","strokeWidth":2.2,"clip":true},"encoding":{"detail":{"field":"k"},"order":{"field":"i"}}},
{"data":{"name":"c"},"transform":[{"filter":"datum.p=='b'&&datum.t=='do'"}],"mark":{"type":"line","interpolate":"cardinal","stroke":"black","strokeWidth":2.2,"strokeDash":[2.5,4],"clip":true},"encoding":{"detail":{"field":"k"},"order":{"field":"i"}}},
{"data":{"name":"m"},"transform":[{"filter":"datum.p=='b'"}],"mark":{"type":"point","shape":"M-1,0L1,0M0,-1L0,1","size":729,"filled":false,"stroke":"black","strokeWidth":1.8,"opacity":1,"clip":true},
"encoding":{"x":{"field":"x","type":"quantitative","scale":{"domain":[0,100],"nice":false,"zero":false},"axis":{"orient":"top","title":null,"labels":false,"values":[9.5,18.3,27.1,35.9,44.7,53.5,62.3,71.1,79.8,88.6,97.4],"minExtent":0,"maxExtent":0}},
"y":{"field":"y","type":"quantitative","scale":{"domain":[0,100],"nice":false,"zero":false},"axis":{"orient":"right","title":null,"labels":false,"values":[6.7,22.2,37.7,53.3,68.8,84.3],"minExtent":0,"maxExtent":0}}}},
{"data":{"name":"t"},"transform":[{"filter":"datum.p=='b'&&datum.k=='title'"}],"mark":{"type":"text","font":"Liberation Serif","fontSize":40,"align":"left","baseline":"alphabetic","color":"black","clip":true},"encoding":{"text":{"field":"label"}}}
]}
],"spacing":169.6,"bounds":"flush"},
{"hconcat":[
{"width":444,"height":434,"resolve":{"axis":{"x":"independent","y":"independent"}},
"encoding":{"x":{"field":"x","type":"quantitative","scale":{"domain":[0,100],"nice":false,"zero":false},"axis":null},"y":{"field":"y","type":"quantitative","scale":{"domain":[0,100],"nice":false,"zero":false},"axis":null}},
"layer":[
{"data":{"name":"c"},"transform":[{"filter":"datum.p=='c'&&datum.t=='s'"}],"mark":{"type":"line","interpolate":"cardinal-closed","stroke":"black","strokeWidth":2.2,"clip":true},
"encoding":{"x":{"field":"x","type":"quantitative","scale":{"domain":[0,100],"nice":false,"zero":false},"axis":{"orient":"bottom","title":null,"values":[4.1,14.3,24.5,34.7,44.9,55.1,65.3,75.5,85.7,95.9],"labelExpr":"datum.value==14.3?'4\u200252\u200236':datum.value==55.1?'4\u200252\u200234':datum.value==95.9?'4\u200252\u200232':''","labelPadding":31,"minExtent":26.6,"maxExtent":26.6}},
"y":{"field":"y","type":"quantitative","scale":{"domain":[0,100],"nice":false,"zero":false},"axis":{"orient":"left","title":null,"values":[15.6,31.1,46.6,62.1,77.6,93.1],"labelExpr":"datum.value==15.6?'30\u200228\u200200':datum.value==46.6?'30\u200228\u200220':datum.value==77.6?'30\u200228\u200240':''","labelPadding":25,"minExtent":135.4,"maxExtent":135.4}},
"detail":{"field":"k"},"order":{"field":"i"}}},
{"data":{"name":"c"},"transform":[{"filter":"datum.p=='c'&&datum.t=='d'"}],"mark":{"type":"line","interpolate":"cardinal-closed","stroke":"black","strokeWidth":2.2,"strokeDash":[2.5,4],"clip":true},"encoding":{"detail":{"field":"k"},"order":{"field":"i"}}},
{"data":{"name":"c"},"transform":[{"filter":"datum.p=='c'&&datum.t=='so'"}],"mark":{"type":"line","interpolate":"cardinal","stroke":"black","strokeWidth":2.2,"clip":true},"encoding":{"detail":{"field":"k"},"order":{"field":"i"}}},
{"data":{"name":"c"},"transform":[{"filter":"datum.p=='c'&&datum.t=='do'"}],"mark":{"type":"line","interpolate":"cardinal","stroke":"black","strokeWidth":2.2,"strokeDash":[2.5,4],"clip":true},"encoding":{"detail":{"field":"k"},"order":{"field":"i"}}},
{"data":{"name":"m"},"transform":[{"filter":"datum.p=='c'"}],"mark":{"type":"point","shape":"M-1,0L1,0M0,-1L0,1","size":729,"filled":false,"stroke":"black","strokeWidth":1.8,"opacity":1,"clip":true},
"encoding":{"x":{"field":"x","type":"quantitative","scale":{"domain":[0,100],"nice":false,"zero":false},"axis":{"orient":"top","title":null,"labels":false,"values":[4.1,14.3,24.5,34.7,44.9,55.1,65.3,75.5,85.7,95.9],"minExtent":0,"maxExtent":0}},
"y":{"field":"y","type":"quantitative","scale":{"domain":[0,100],"nice":false,"zero":false},"axis":{"orient":"right","title":null,"labels":false,"values":[15.6,31.1,46.6,62.1,77.6,93.1],"minExtent":0,"maxExtent":0}}}},
{"data":{"name":"t"},"transform":[{"filter":"datum.p=='c'&&datum.k=='title'"}],"mark":{"type":"text","font":"Liberation Serif","fontSize":40,"align":"left","baseline":"alphabetic","color":"black","clip":true},"encoding":{"text":{"field":"label"}}},
{"data":{"name":"t"},"transform":[{"filter":"datum.p=='c'&&datum.k=='ann'"}],"mark":{"type":"text","font":"Liberation Serif","fontSize":22,"fontWeight":"bold","align":"left","baseline":"alphabetic","color":"black","clip":true},"encoding":{"text":{"field":"label"}}}
]},
{"width":428,"height":434,"resolve":{"axis":{"x":"independent","y":"independent"}},
"encoding":{"x":{"field":"x","type":"quantitative","scale":{"domain":[0,100],"nice":false,"zero":false},"axis":null},"y":{"field":"y","type":"quantitative","scale":{"domain":[0,100],"nice":false,"zero":false},"axis":null}},
"layer":[
{"data":{"name":"c"},"transform":[{"filter":"datum.p=='d'&&datum.t=='s'"}],"mark":{"type":"line","interpolate":"cardinal-closed","stroke":"black","strokeWidth":2.2,"clip":true},
"encoding":{"x":{"field":"x","type":"quantitative","scale":{"domain":[0,100],"nice":false,"zero":false},"axis":{"orient":"bottom","title":null,"values":[7.9,16.6,25.4,34.1,42.8,51.5,60.2,69.0,77.7,86.4,95.1],"labelExpr":"datum.value==7.9?'20\u200218\u200246':datum.value==42.8?'20\u200218\u200244':datum.value==77.7?'20\u200218\u200242':''","labelPadding":31,"minExtent":26.6,"maxExtent":26.6}},
"y":{"field":"y","type":"quantitative","scale":{"domain":[0,100],"nice":false,"zero":false},"axis":{"orient":"left","title":null,"values":[12.2,28.0,43.9,59.8,75.6,91.5],"labelExpr":"datum.value==28?'41\u200211\u200240':datum.value==59.8?'41\u200212\u200200':datum.value==91.5?'41\u200212\u200220':''","labelPadding":27,"minExtent":130,"maxExtent":130}},
"detail":{"field":"k"},"order":{"field":"i"}}},
{"data":{"name":"c"},"transform":[{"filter":"datum.p=='d'&&datum.t=='d'"}],"mark":{"type":"line","interpolate":"cardinal-closed","stroke":"black","strokeWidth":2.2,"strokeDash":[2.5,4],"clip":true},"encoding":{"detail":{"field":"k"},"order":{"field":"i"}}},
{"data":{"name":"c"},"transform":[{"filter":"datum.p=='d'&&datum.t=='so'"}],"mark":{"type":"line","interpolate":"cardinal","stroke":"black","strokeWidth":2.2,"clip":true},"encoding":{"detail":{"field":"k"},"order":{"field":"i"}}},
{"data":{"name":"c"},"transform":[{"filter":"datum.p=='d'&&datum.t=='do'"}],"mark":{"type":"line","interpolate":"cardinal","stroke":"black","strokeWidth":2.2,"strokeDash":[2.5,4],"clip":true},"encoding":{"detail":{"field":"k"},"order":{"field":"i"}}},
{"data":{"name":"m"},"transform":[{"filter":"datum.p=='d'"}],"mark":{"type":"point","shape":"M-1,0L1,0M0,-1L0,1","size":729,"filled":false,"stroke":"black","strokeWidth":1.8,"opacity":1,"clip":true},
"encoding":{"x":{"field":"x","type":"quantitative","scale":{"domain":[0,100],"nice":false,"zero":false},"axis":{"orient":"top","title":null,"labels":false,"values":[7.9,16.6,25.4,34.1,42.8,51.5,60.2,69.0,77.7,86.4,95.1],"minExtent":0,"maxExtent":0}},
"y":{"field":"y","type":"quantitative","scale":{"domain":[0,100],"nice":false,"zero":false},"axis":{"orient":"right","title":null,"labels":false,"values":[12.2,28.0,43.9,59.8,75.6,91.5],"minExtent":0,"maxExtent":0}}}},
{"data":{"name":"t"},"transform":[{"filter":"datum.p=='d'&&datum.k=='title'"}],"mark":{"type":"text","font":"Liberation Serif","fontSize":40,"align":"left","baseline":"alphabetic","color":"black","clip":true},"encoding":{"text":{"field":"label"}}},
{"data":{"name":"t"},"transform":[{"filter":"datum.p=='d'&&datum.k=='ann'"}],"mark":{"type":"text","font":"Liberation Serif","fontSize":22,"fontWeight":"bold","align":"left","baseline":"alphabetic","color":"black","clip":true},"encoding":{"text":{"field":"label"}}}
]}
],"spacing":174.8,"bounds":"flush"},
{"hconcat":[
{"width":434.3,"height":434,"view":{"stroke":null},"resolve":{"axis":{"x":"independent","y":"independent"}},
"encoding":{"x":{"field":"x","type":"quantitative","scale":{"domain":[-1.95,100],"nice":false,"zero":false},"axis":null},"y":{"field":"y","type":"quantitative","scale":{"domain":[0,100],"nice":false,"zero":false},"axis":null}},
"layer":[
{"data":{"name":"fr"},"mark":{"type":"rect","fill":"transparent","stroke":"black","strokeWidth":2.4},"encoding":{"x2":{"field":"x2"},"y2":{"field":"y2"}}},
{"data":{"name":"c"},"transform":[{"filter":"datum.p=='e'&&datum.t=='s'"}],"mark":{"type":"line","interpolate":"cardinal-closed","stroke":"black","strokeWidth":2.2,"clip":true},
"encoding":{"x":{"field":"x","type":"quantitative","scale":{"domain":[-1.95,100],"nice":false,"zero":false},"axis":{"orient":"bottom","title":null,"values":[4.9,16.1,27.3,38.5,49.7,60.9,72.1,83.3,94.5],"labelExpr":"datum.value==38.5?'6\u200215\u200254':datum.value==83.3?'6\u200215\u200252':''","labelPadding":31,"minExtent":42,"maxExtent":42}},
"y":{"field":"y","type":"quantitative","scale":{"domain":[0,100],"nice":false,"zero":false},"axis":{"orient":"left","title":null,"offset":-8.3,"values":[5.1,20.7,36.3,51.9,67.5,83.1,98.7],"labelExpr":"datum.value==5.1?'15\u200217\u200240':datum.value==36.3?'15\u200218\u200200':datum.value==67.5?'15\u200218\u200220':datum.value==98.7?'15\u200218\u200240':''","labelPadding":26,"minExtent":135.4,"maxExtent":135.4}},
"detail":{"field":"k"},"order":{"field":"i"}}},
{"data":{"name":"c"},"transform":[{"filter":"datum.p=='e'&&datum.t=='d'"}],"mark":{"type":"line","interpolate":"cardinal-closed","stroke":"black","strokeWidth":2.2,"strokeDash":[2.5,4],"clip":true},"encoding":{"detail":{"field":"k"},"order":{"field":"i"}}},
{"data":{"name":"c"},"transform":[{"filter":"datum.p=='e'&&datum.t=='so'"}],"mark":{"type":"line","interpolate":"cardinal","stroke":"black","strokeWidth":2.2,"clip":true},"encoding":{"detail":{"field":"k"},"order":{"field":"i"}}},
{"data":{"name":"m"},"transform":[{"filter":"datum.p=='e'"}],"mark":{"type":"point","shape":"M-1,0L1,0M0,-1L0,1","size":625,"filled":false,"stroke":"black","strokeWidth":1.8,"opacity":1,"clip":true},
"encoding":{"x":{"field":"x","type":"quantitative","scale":{"domain":[-1.95,100],"nice":false,"zero":false},"axis":{"orient":"top","title":null,"labels":false,"values":[4.9,16.1,27.3,38.5,49.7,60.9,72.1,83.3,94.5],"minExtent":0,"maxExtent":0}},
"y":{"field":"y","type":"quantitative","scale":{"domain":[0,100],"nice":false,"zero":false},"axis":{"orient":"right","title":null,"labels":false,"values":[5.1,20.7,36.3,51.9,67.5,83.1,98.7],"minExtent":0,"maxExtent":0}}}},
{"data":{"name":"t"},"transform":[{"filter":"datum.p=='e'&&datum.k=='title'"}],"mark":{"type":"text","font":"Liberation Serif","fontSize":40,"align":"left","baseline":"alphabetic","color":"black","clip":true},"encoding":{"text":{"field":"label"}}}
]},
{"width":434,"height":434,"resolve":{"axis":{"x":"independent","y":"independent"}},
"encoding":{"x":{"field":"x","type":"quantitative","scale":{"domain":[0,100],"nice":false,"zero":false},"axis":null},"y":{"field":"y","type":"quantitative","scale":{"domain":[0,100],"nice":false,"zero":false},"axis":null}},
"layer":[
{"data":{"name":"c"},"transform":[{"filter":"datum.p=='f'&&datum.t=='s'"}],"mark":{"type":"line","interpolate":"cardinal-closed","stroke":"black","strokeWidth":2.2,"clip":true},
"encoding":{"x":{"field":"x","type":"quantitative","scale":{"domain":[0,100],"nice":false,"zero":false},"axis":{"orient":"bottom","title":null,"values":[13.6,28.8,43.9,59.3,74.3,89.3],"labelExpr":"datum.value==59.3?'21\u200238\u200210':''","labelPadding":31,"minExtent":42,"maxExtent":42}},
"y":{"field":"y","type":"quantitative","scale":{"domain":[0,100],"nice":false,"zero":false},"axis":{"orient":"left","title":null,"values":[13.9,29.6,45.3,61.0,76.7,92.4],"labelExpr":"datum.value==13.9?'50\u200200\u200220':datum.value==45.3?'50\u200200\u200240':datum.value==76.7?'50\u200201\u200200':''","labelPadding":26.6,"minExtent":130,"maxExtent":130}},
"detail":{"field":"k"},"order":{"field":"i"}}},
{"data":{"name":"c"},"transform":[{"filter":"datum.p=='f'&&datum.t=='d'"}],"mark":{"type":"line","interpolate":"cardinal-closed","stroke":"black","strokeWidth":2.2,"strokeDash":[2.5,4],"clip":true},"encoding":{"detail":{"field":"k"},"order":{"field":"i"}}},
{"data":{"name":"c"},"transform":[{"filter":"datum.p=='f'&&datum.t=='so'"}],"mark":{"type":"line","interpolate":"cardinal","stroke":"black","strokeWidth":2.2,"clip":true},"encoding":{"detail":{"field":"k"},"order":{"field":"i"}}},
{"data":{"name":"m"},"transform":[{"filter":"datum.p=='f'"}],"mark":{"type":"point","shape":"M-1,0L1,0M0,-1L0,1","size":625,"filled":false,"stroke":"black","strokeWidth":1.8,"opacity":1,"clip":true},
"encoding":{"x":{"field":"x","type":"quantitative","scale":{"domain":[0,100],"nice":false,"zero":false},"axis":{"orient":"top","title":null,"labels":false,"values":[13.6,28.8,43.9,59.3,74.3,89.3],"minExtent":0,"maxExtent":0}},
"y":{"field":"y","type":"quantitative","scale":{"domain":[0,100],"nice":false,"zero":false},"axis":{"orient":"right","title":null,"labels":false,"values":[13.9,29.6,45.3,61.0,76.7,92.4],"minExtent":0,"maxExtent":0}}}},
{"data":{"name":"t"},"transform":[{"filter":"datum.p=='f'&&datum.k=='title'"}],"mark":{"type":"text","font":"Liberation Serif","fontSize":40,"align":"left","baseline":"alphabetic","color":"black","clip":true},"encoding":{"text":{"field":"label"}}}
]}
],"spacing":187.2,"bounds":"flush","title":{"text":"Right Ascension (B1950.0)","orient":"bottom","anchor":"middle","font":"Liberation Serif","fontSize":38,"fontWeight":"normal","color":"black","offset":4,"dx":-20}}
]
}
